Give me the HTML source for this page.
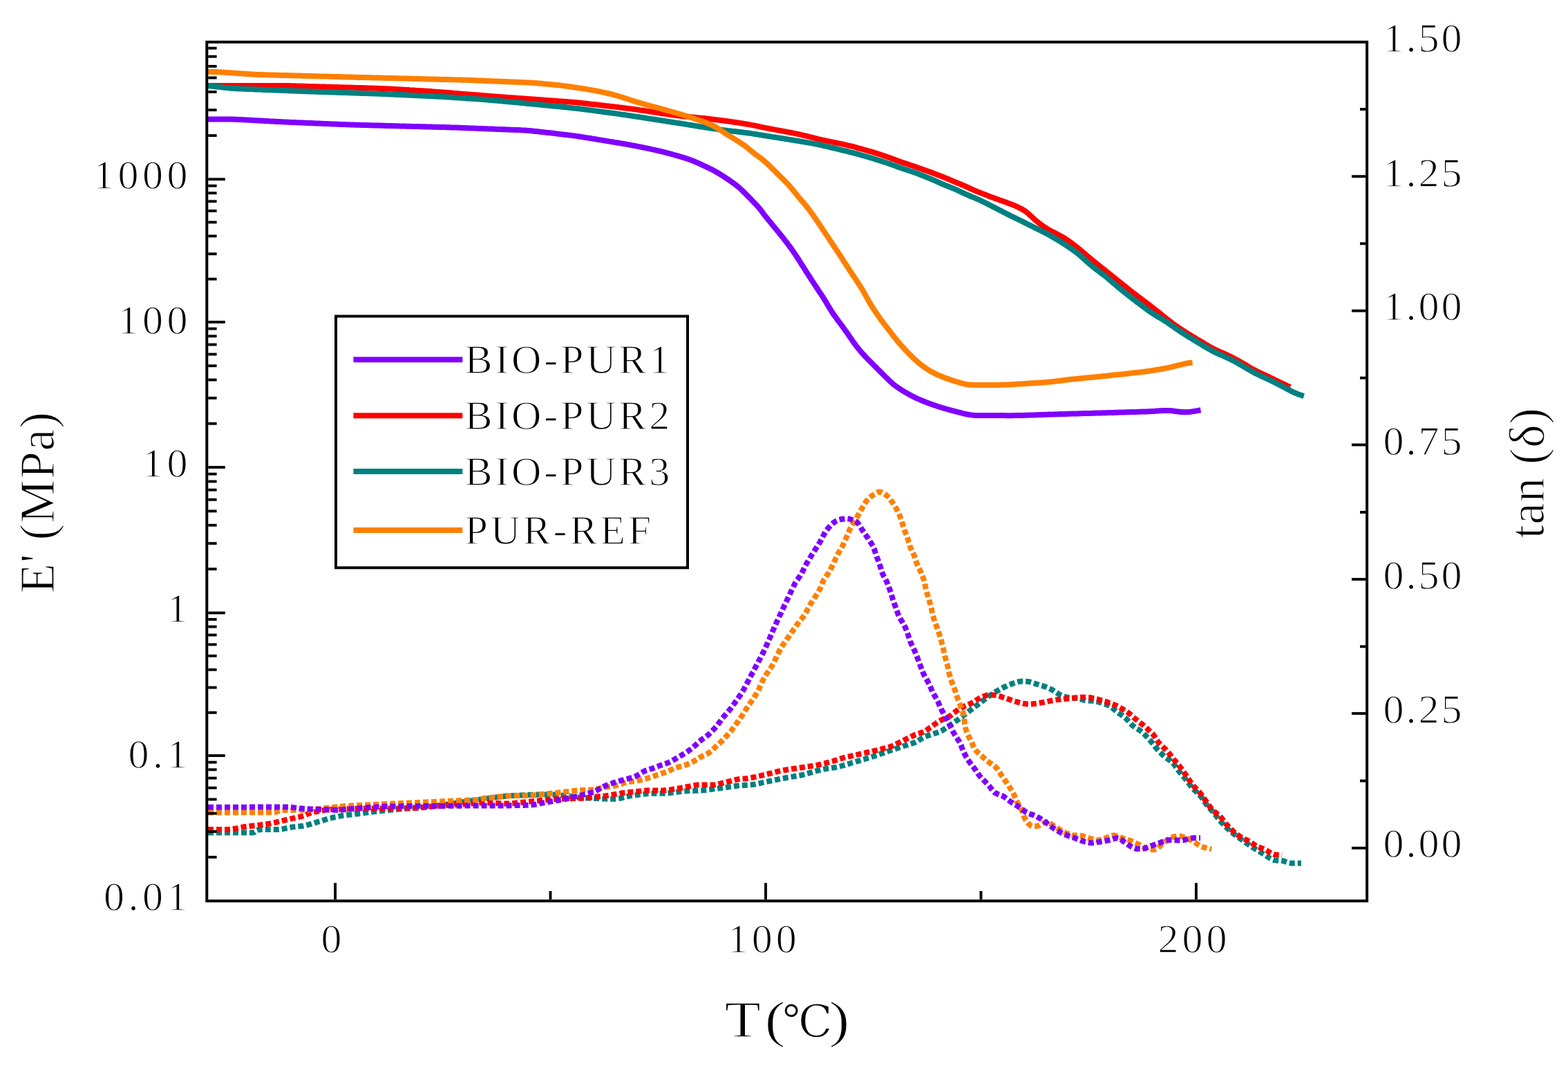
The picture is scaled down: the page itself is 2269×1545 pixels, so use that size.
<!DOCTYPE html><html><head><meta charset="utf-8"><title>DMA</title><style>html,body{margin:0;padding:0;background:#fff;}svg{display:block;}text{font-family:"Liberation Serif","DejaVu Serif",serif;fill:#000;stroke:#fff;stroke-width:1.3;}</style></head><body>
<svg width="2269" height="1545" viewBox="0 0 2269 1545">
<rect x="0" y="0" width="2269" height="1545" fill="#fff"/>
<path d="M301.0,1204.6 L303.4,1204.6 L305.1,1204.6 L307.0,1204.6 L309.0,1204.6 L311.0,1204.6 L313.0,1204.6 L315.0,1204.6 L317.0,1204.6 L319.0,1204.6 L321.0,1204.6 L323.0,1204.6 L325.0,1204.6 L327.0,1204.6 L329.0,1204.6 L331.0,1204.6 L333.0,1204.6 L335.0,1204.6 L337.0,1204.6 L339.0,1204.6 L341.0,1204.6 L343.0,1204.6 L345.0,1204.6 L347.0,1204.6 L349.0,1204.6 L351.0,1204.6 L353.0,1204.6 L355.0,1204.6 L357.0,1204.6 L359.0,1204.6 L361.0,1204.6 L363.0,1204.6 L365.0,1204.5 L366.8,1204.4 L368.4,1203.9 L369.6,1203.0 L370.7,1202.0 L371.9,1201.1 L373.4,1200.5 L375.1,1200.2 L377.1,1200.2 L379.1,1200.1 L381.1,1200.1 L383.1,1200.1 L385.1,1200.1 L387.1,1200.1 L389.1,1200.0 L391.1,1200.0 L393.1,1200.0 L395.1,1200.0 L397.1,1200.0 L399.1,1200.0 L401.1,1199.9 L403.1,1199.9 L405.1,1199.7 L407.0,1199.5 L409.0,1199.2 L411.0,1198.8 L412.9,1198.4 L414.9,1198.0 L416.8,1197.6 L418.8,1197.2 L420.8,1196.8 L422.7,1196.5 L424.7,1196.2 L426.7,1196.0 L428.7,1195.8 L430.7,1195.6 L432.7,1195.4 L434.6,1195.2 L436.6,1195.0 L438.6,1194.8 L440.6,1194.4 L442.5,1194.0 L444.5,1193.5 L446.4,1193.0 L448.3,1192.4 L450.2,1191.9 L452.1,1191.3 L454.1,1190.8 L456.0,1190.2 L457.9,1189.6 L459.8,1189.0 L461.7,1188.4 L463.6,1187.9 L465.5,1187.3 L467.5,1186.7 L469.4,1186.1 L471.3,1185.5 L473.2,1184.9 L475.1,1184.3 L477.0,1183.8 L479.0,1183.4 L480.9,1182.9 L482.9,1182.5 L484.8,1182.0 L486.8,1181.6 L488.7,1181.2 L490.7,1180.8 L492.7,1180.4 L494.6,1180.0 L496.6,1179.7 L498.6,1179.5 L500.6,1179.2 L502.6,1179.0 L504.5,1178.8 L506.5,1178.6 L508.5,1178.3 L510.5,1178.1 L512.5,1177.9 L514.5,1177.6 L516.5,1177.4 L518.4,1177.2 L520.4,1176.9 L522.4,1176.7 L524.4,1176.4 L526.4,1176.1 L528.4,1175.9 L530.3,1175.6 L532.3,1175.4 L534.3,1175.1 L536.3,1174.8 L538.3,1174.6 L540.3,1174.3 L542.2,1174.0 L544.2,1173.8 L546.2,1173.5 L548.2,1173.3 L550.2,1173.1 L552.2,1172.9 L554.2,1172.7 L556.2,1172.5 L558.1,1172.3 L560.1,1172.1 L562.1,1171.9 L564.1,1171.7 L566.1,1171.5 L568.1,1171.4 L570.1,1171.2 L572.1,1171.0 L574.1,1170.8 L576.1,1170.6 L578.1,1170.4 L580.0,1170.2 L582.0,1170.0 L584.0,1169.9 L586.0,1169.7 L588.0,1169.5 L590.0,1169.4 L592.0,1169.2 L594.0,1169.1 L596.0,1168.9 L598.0,1168.8 L600.0,1168.6 L602.0,1168.5 L604.0,1168.3 L606.0,1168.2 L608.0,1168.0 L609.9,1167.8 L611.9,1167.7 L613.9,1167.5 L615.9,1167.3 L617.9,1167.1 L619.9,1166.9 L621.9,1166.7 L623.9,1166.4 L625.9,1166.2 L627.8,1165.9 L629.8,1165.7 L631.8,1165.4 L633.8,1165.2 L635.8,1164.9 L637.8,1164.7 L639.7,1164.4 L641.7,1164.2 L643.7,1163.9 L645.7,1163.7 L647.7,1163.4 L649.7,1163.2 L651.7,1162.9 L653.6,1162.6 L655.6,1162.4 L657.6,1162.1 L659.6,1161.8 L661.5,1161.5 L663.5,1161.2 L665.5,1160.9 L667.5,1160.6 L669.5,1160.3 L671.4,1160.0 L673.4,1159.7 L675.4,1159.4 L677.4,1159.1 L679.3,1158.8 L681.3,1158.5 L683.3,1158.2 L685.3,1157.9 L687.3,1157.6 L689.2,1157.3 L691.2,1157.0 L693.2,1156.7 L695.2,1156.4 L697.1,1156.1 L699.1,1155.9 L701.1,1155.6 L703.1,1155.3 L705.1,1155.1 L707.1,1154.8 L709.0,1154.6 L711.0,1154.3 L713.0,1154.1 L715.0,1153.8 L717.0,1153.6 L719.0,1153.3 L720.9,1153.1 L722.9,1152.8 L724.9,1152.6 L726.9,1152.3 L728.9,1152.1 L730.9,1151.8 L732.9,1151.6 L734.8,1151.4 L736.8,1151.2 L738.8,1151.1 L740.8,1151.0 L742.8,1150.9 L744.8,1150.8 L746.8,1150.7 L748.8,1150.6 L750.8,1150.5 L752.8,1150.4 L754.8,1150.4 L756.8,1150.3 L758.8,1150.2 L760.8,1150.1 L762.8,1150.0 L764.8,1149.9 L766.8,1149.8 L768.8,1149.7 L770.8,1149.7 L772.8,1149.6 L774.8,1149.6 L776.8,1149.6 L778.8,1149.6 L780.8,1149.6 L782.8,1149.6 L784.8,1149.6 L786.8,1149.6 L788.8,1149.6 L790.8,1149.6 L792.8,1149.6 L794.8,1149.6 L796.8,1149.6 L798.8,1149.6 L800.8,1149.6 L802.8,1149.6 L804.8,1149.7 L806.8,1149.8 L808.8,1150.0 L810.8,1150.2 L812.7,1150.5 L814.7,1150.7 L816.7,1151.0 L818.7,1151.2 L820.7,1151.5 L822.7,1151.7 L824.7,1152.0 L826.6,1152.2 L828.6,1152.5 L830.6,1152.7 L832.6,1152.9 L834.6,1153.2 L836.6,1153.4 L838.5,1153.7 L840.5,1153.9 L842.5,1154.0 L844.5,1154.2 L846.5,1154.3 L848.5,1154.4 L850.5,1154.5 L852.5,1154.6 L854.5,1154.7 L856.5,1154.7 L858.5,1154.8 L860.5,1154.9 L862.5,1155.0 L864.5,1155.1 L866.5,1155.2 L868.5,1155.3 L870.5,1155.4 L872.5,1155.5 L874.5,1155.6 L876.5,1155.6 L878.5,1155.7 L880.5,1155.7 L882.5,1155.7 L884.5,1155.7 L886.5,1155.7 L888.5,1155.7 L890.5,1155.7 L892.5,1155.6 L894.4,1155.3 L896.4,1155.0 L898.3,1154.6 L900.3,1154.1 L902.2,1153.6 L904.2,1153.1 L906.1,1152.7 L908.1,1152.2 L910.0,1151.7 L912.0,1151.4 L913.9,1151.0 L915.9,1150.7 L917.9,1150.5 L919.9,1150.2 L921.8,1149.9 L923.8,1149.7 L925.8,1149.4 L927.8,1149.1 L929.8,1148.9 L931.8,1148.6 L933.7,1148.4 L935.7,1148.2 L937.7,1148.0 L939.7,1147.9 L941.7,1147.8 L943.7,1147.8 L945.7,1147.8 L947.7,1147.8 L949.7,1147.8 L951.7,1147.8 L953.7,1147.8 L955.7,1147.8 L957.7,1147.8 L959.7,1147.8 L961.7,1147.8 L963.7,1147.7 L965.7,1147.5 L967.7,1147.3 L969.7,1147.1 L971.6,1146.8 L973.6,1146.6 L975.6,1146.3 L977.6,1146.1 L979.6,1145.8 L981.6,1145.5 L983.5,1145.3 L985.5,1145.0 L987.5,1144.8 L989.5,1144.5 L991.5,1144.4 L993.5,1144.2 L995.5,1144.2 L997.5,1144.1 L999.5,1144.0 L1001.5,1143.9 L1003.5,1143.9 L1005.5,1143.8 L1007.5,1143.7 L1009.5,1143.7 L1011.5,1143.6 L1013.5,1143.5 L1015.5,1143.4 L1017.5,1143.3 L1019.4,1143.1 L1021.4,1142.8 L1023.4,1142.6 L1025.4,1142.3 L1027.4,1142.1 L1029.4,1141.8 L1031.3,1141.5 L1033.3,1141.3 L1035.3,1141.0 L1037.3,1140.8 L1039.3,1140.5 L1041.3,1140.2 L1043.2,1140.0 L1045.2,1139.7 L1047.2,1139.4 L1049.2,1139.2 L1051.2,1138.9 L1053.2,1138.7 L1055.1,1138.4 L1057.1,1138.1 L1059.1,1137.9 L1061.1,1137.6 L1063.1,1137.3 L1065.0,1137.1 L1067.0,1136.8 L1069.0,1136.6 L1071.0,1136.4 L1073.0,1136.2 L1075.0,1136.1 L1077.0,1136.0 L1079.0,1135.8 L1081.0,1135.7 L1083.0,1135.6 L1085.0,1135.4 L1087.0,1135.3 L1088.9,1135.1 L1090.9,1134.8 L1092.9,1134.5 L1094.8,1134.1 L1096.8,1133.6 L1098.8,1133.2 L1100.7,1132.8 L1102.7,1132.3 L1104.6,1131.9 L1106.6,1131.5 L1108.5,1131.0 L1110.5,1130.6 L1112.4,1130.2 L1114.4,1129.8 L1116.3,1129.4 L1118.3,1129.0 L1120.3,1128.6 L1122.2,1128.2 L1124.2,1127.8 L1126.1,1127.4 L1128.1,1127.0 L1130.1,1126.6 L1132.0,1126.2 L1134.0,1125.9 L1136.0,1125.5 L1137.9,1125.1 L1139.9,1124.7 L1141.9,1124.4 L1143.8,1124.0 L1145.8,1123.7 L1147.8,1123.4 L1149.7,1123.0 L1151.7,1122.7 L1153.7,1122.4 L1155.7,1122.0 L1157.6,1121.7 L1159.6,1121.3 L1161.5,1120.9 L1163.5,1120.4 L1165.4,1119.9 L1167.3,1119.4 L1169.2,1118.8 L1171.2,1118.2 L1173.1,1117.7 L1175.0,1117.1 L1176.9,1116.5 L1178.8,1115.9 L1180.8,1115.4 L1182.7,1114.8 L1184.6,1114.3 L1186.5,1113.8 L1188.5,1113.3 L1190.4,1113.0 L1192.4,1112.6 L1194.4,1112.3 L1196.4,1112.0 L1198.3,1111.7 L1200.3,1111.4 L1202.3,1111.1 L1204.3,1110.8 L1206.2,1110.5 L1208.2,1110.2 L1210.2,1109.9 L1212.2,1109.5 L1214.1,1109.0 L1216.0,1108.5 L1217.9,1108.0 L1219.9,1107.4 L1221.8,1106.9 L1223.7,1106.3 L1225.6,1105.7 L1227.5,1105.2 L1229.5,1104.6 L1231.4,1104.0 L1233.3,1103.4 L1235.2,1102.9 L1237.1,1102.3 L1239.0,1101.7 L1241.0,1101.2 L1242.9,1100.6 L1244.8,1100.0 L1246.7,1099.4 L1248.6,1098.8 L1250.5,1098.3 L1252.4,1097.7 L1254.4,1097.1 L1256.3,1096.5 L1258.2,1096.0 L1260.1,1095.4 L1262.0,1094.8 L1263.9,1094.2 L1265.8,1093.5 L1267.7,1092.9 L1269.6,1092.3 L1271.5,1091.6 L1273.4,1090.9 L1275.3,1090.3 L1277.2,1089.6 L1279.0,1089.0 L1280.9,1088.3 L1282.8,1087.7 L1284.7,1087.0 L1286.6,1086.3 L1288.5,1085.7 L1290.4,1085.0 L1292.3,1084.4 L1294.2,1083.8 L1296.1,1083.1 L1298.0,1082.5 L1299.9,1081.9 L1301.8,1081.2 L1303.7,1080.6 L1305.6,1080.0 L1307.5,1079.3 L1309.3,1078.7 L1311.3,1078.1 L1313.2,1077.5 L1315.1,1076.9 L1317.0,1076.3 L1318.9,1075.7 L1320.8,1075.1 L1322.7,1074.5 L1324.5,1073.8 L1326.3,1072.9 L1328.0,1072.0 L1329.7,1070.9 L1331.4,1069.8 L1333.1,1068.7 L1334.8,1067.6 L1336.5,1066.7 L1338.3,1065.8 L1340.1,1065.1 L1342.0,1064.4 L1343.9,1063.7 L1345.8,1063.1 L1347.7,1062.5 L1349.6,1061.9 L1351.5,1061.3 L1353.4,1060.7 L1355.3,1060.1 L1357.2,1059.5 L1359.1,1058.9 L1360.9,1058.1 L1362.7,1057.2 L1364.4,1056.1 L1366.0,1055.0 L1367.7,1053.9 L1369.3,1052.8 L1371.0,1051.6 L1372.6,1050.5 L1374.3,1049.4 L1375.9,1048.2 L1377.6,1047.1 L1379.2,1046.0 L1380.9,1044.9 L1382.5,1043.8 L1384.2,1042.6 L1385.8,1041.5 L1387.4,1040.3 L1389.0,1039.1 L1390.6,1037.8 L1392.2,1036.6 L1393.8,1035.4 L1395.4,1034.2 L1396.9,1033.0 L1398.5,1031.8 L1400.1,1030.5 L1401.7,1029.3 L1403.3,1028.1 L1404.9,1026.9 L1406.5,1025.7 L1408.1,1024.5 L1409.7,1023.3 L1411.3,1022.1 L1412.9,1020.9 L1414.5,1019.7 L1416.1,1018.5 L1417.7,1017.3 L1419.3,1016.1 L1420.8,1014.8 L1422.4,1013.6 L1424.0,1012.4 L1425.6,1011.2 L1427.2,1010.0 L1428.8,1008.8 L1430.4,1007.6 L1432.1,1006.5 L1433.7,1005.4 L1435.4,1004.3 L1437.1,1003.2 L1438.7,1002.1 L1440.4,1001.0 L1442.1,1000.0 L1443.9,999.0 L1445.6,998.0 L1447.4,997.0 L1449.1,996.1 L1450.9,995.1 L1452.7,994.2 L1454.5,993.4 L1456.3,992.6 L1458.1,991.7 L1460.0,990.9 L1461.8,990.2 L1463.7,989.4 L1465.5,988.7 L1467.4,988.1 L1469.3,987.5 L1471.2,986.9 L1473.1,986.3 L1475.1,986.0 L1477.0,985.7 L1479.0,985.6 L1481.0,985.6 L1483.0,985.6 L1485.0,985.7 L1487.0,985.9 L1488.9,986.2 L1490.8,986.7 L1492.7,987.3 L1494.6,987.9 L1496.5,988.5 L1498.5,989.1 L1500.4,989.7 L1502.3,990.3 L1504.2,990.9 L1506.1,991.5 L1508.0,992.0 L1509.9,992.6 L1511.8,993.3 L1513.7,994.0 L1515.5,994.8 L1517.3,995.6 L1519.2,996.4 L1521.0,997.2 L1522.8,998.1 L1524.5,999.1 L1526.2,1000.2 L1527.9,1001.2 L1529.5,1002.3 L1531.2,1003.4 L1532.9,1004.5 L1534.6,1005.4 L1536.5,1006.2 L1538.3,1006.9 L1540.2,1007.5 L1542.1,1008.1 L1544.0,1008.6 L1546.0,1009.1 L1547.9,1009.5 L1549.9,1009.7 L1551.9,1009.8 L1553.9,1009.8 L1555.9,1009.9 L1557.8,1010.0 L1559.8,1010.3 L1561.7,1010.7 L1563.6,1011.3 L1565.5,1011.9 L1567.4,1012.5 L1569.4,1013.0 L1571.3,1013.4 L1573.3,1013.6 L1575.2,1013.7 L1577.2,1013.7 L1579.2,1013.7 L1581.2,1013.8 L1583.2,1014.0 L1585.1,1014.3 L1587.1,1014.8 L1589.0,1015.3 L1590.9,1015.9 L1592.8,1016.5 L1594.7,1017.1 L1596.6,1017.7 L1598.5,1018.3 L1600.4,1019.0 L1602.3,1019.7 L1604.1,1020.5 L1605.9,1021.4 L1607.5,1022.4 L1609.1,1023.6 L1610.6,1024.9 L1612.2,1026.2 L1613.7,1027.5 L1615.2,1028.8 L1616.7,1030.1 L1618.3,1031.2 L1620.0,1032.4 L1621.6,1033.5 L1623.3,1034.6 L1624.9,1035.8 L1626.5,1036.9 L1628.1,1038.2 L1629.5,1039.5 L1630.9,1041.0 L1632.3,1042.4 L1633.6,1043.9 L1635.0,1045.4 L1636.3,1046.9 L1637.7,1048.3 L1639.1,1049.7 L1640.7,1050.9 L1642.3,1052.1 L1643.9,1053.2 L1645.7,1054.2 L1647.4,1055.3 L1649.1,1056.3 L1650.7,1057.4 L1652.3,1058.6 L1653.8,1059.9 L1655.2,1061.3 L1656.6,1062.7 L1658.0,1064.2 L1659.3,1065.6 L1660.7,1067.1 L1662.0,1068.6 L1663.4,1070.1 L1664.7,1071.6 L1666.0,1073.1 L1667.2,1074.7 L1668.5,1076.2 L1669.7,1077.8 L1670.9,1079.4 L1672.2,1080.9 L1673.5,1082.5 L1674.7,1084.0 L1676.1,1085.5 L1677.5,1087.0 L1678.8,1088.4 L1680.3,1089.8 L1681.7,1091.2 L1683.1,1092.6 L1684.6,1094.0 L1686.1,1095.2 L1687.7,1096.4 L1689.3,1097.5 L1691.0,1098.7 L1692.7,1099.8 L1694.3,1100.9 L1695.8,1102.2 L1697.2,1103.6 L1698.5,1105.1 L1699.6,1106.7 L1700.8,1108.3 L1701.9,1110.0 L1703.1,1111.6 L1704.2,1113.2 L1705.4,1114.8 L1706.7,1116.4 L1707.9,1117.9 L1709.2,1119.5 L1710.5,1121.0 L1711.8,1122.5 L1713.1,1124.1 L1714.3,1125.6 L1715.6,1127.2 L1716.8,1128.7 L1718.0,1130.3 L1719.3,1131.9 L1720.5,1133.5 L1721.7,1135.1 L1722.9,1136.7 L1724.1,1138.2 L1725.4,1139.8 L1726.8,1141.2 L1728.2,1142.6 L1729.6,1144.0 L1731.1,1145.4 L1732.5,1146.8 L1733.9,1148.2 L1735.4,1149.6 L1736.7,1151.1 L1738.0,1152.6 L1739.2,1154.2 L1740.3,1155.8 L1741.5,1157.5 L1742.6,1159.1 L1743.7,1160.8 L1744.8,1162.4 L1746.0,1164.0 L1747.3,1165.6 L1748.6,1167.1 L1749.9,1168.6 L1751.3,1170.1 L1752.6,1171.5 L1753.9,1173.0 L1755.3,1174.5 L1756.6,1176.0 L1757.9,1177.6 L1759.1,1179.1 L1760.3,1180.7 L1761.5,1182.3 L1762.7,1183.9 L1764.0,1185.5 L1765.2,1187.0 L1766.5,1188.6 L1767.9,1190.0 L1769.2,1191.5 L1770.7,1192.9 L1772.1,1194.3 L1773.5,1195.7 L1774.9,1197.1 L1776.3,1198.5 L1777.8,1199.9 L1779.3,1201.2 L1780.8,1202.5 L1782.3,1203.8 L1783.9,1205.1 L1785.4,1206.3 L1787.0,1207.5 L1788.6,1208.8 L1790.2,1209.9 L1791.8,1211.1 L1793.5,1212.3 L1795.1,1213.4 L1796.7,1214.6 L1798.4,1215.7 L1800.0,1216.9 L1801.6,1218.1 L1803.2,1219.3 L1804.8,1220.4 L1806.5,1221.6 L1808.1,1222.8 L1809.7,1223.9 L1811.4,1225.0 L1813.1,1226.1 L1814.8,1227.1 L1816.5,1228.2 L1818.2,1229.2 L1819.9,1230.2 L1821.6,1231.3 L1823.3,1232.3 L1825.0,1233.4 L1826.7,1234.5 L1828.4,1235.6 L1830.1,1236.6 L1831.7,1237.7 L1833.4,1238.8 L1835.1,1239.9 L1836.8,1240.9 L1838.5,1242.0 L1840.2,1242.9 L1842.0,1243.7 L1843.8,1244.3 L1845.8,1244.6 L1847.7,1244.7 L1849.7,1244.7 L1851.7,1244.8 L1853.7,1244.9 L1855.6,1245.2 L1857.6,1245.7 L1859.5,1246.2 L1861.4,1246.9 L1863.3,1247.5 L1865.2,1248.0 L1867.1,1248.4 L1869.1,1248.7 L1871.0,1248.8 L1873.0,1248.8 L1875.0,1248.8 L1877.0,1248.8 L1878.8,1248.8 L1880.3,1248.8 L1883.0,1248.8" fill="none" stroke="#008080" stroke-width="8" stroke-dasharray="8 4" stroke-linejoin="miter" stroke-linecap="butt"/>
<path d="M301.0,1199.9 L303.4,1199.9 L305.1,1199.9 L307.0,1199.9 L309.0,1199.9 L311.0,1199.9 L313.0,1199.9 L315.0,1199.9 L317.0,1199.9 L319.0,1199.9 L321.0,1199.9 L323.0,1199.9 L325.0,1199.9 L327.0,1199.9 L329.0,1199.9 L331.0,1199.9 L333.0,1199.8 L335.0,1199.7 L336.9,1199.4 L338.9,1199.0 L340.9,1198.7 L342.8,1198.2 L344.8,1197.8 L346.7,1197.4 L348.7,1197.0 L350.7,1196.6 L352.6,1196.3 L354.6,1196.0 L356.6,1195.8 L358.6,1195.5 L360.6,1195.3 L362.5,1195.0 L364.5,1194.8 L366.5,1194.6 L368.5,1194.3 L370.5,1194.1 L372.5,1193.9 L374.5,1193.6 L376.4,1193.4 L378.4,1193.1 L380.4,1192.9 L382.4,1192.7 L384.4,1192.4 L386.4,1192.1 L388.3,1191.8 L390.3,1191.5 L392.3,1191.0 L394.2,1190.6 L396.2,1190.2 L398.1,1189.8 L400.1,1189.3 L402.0,1188.9 L404.0,1188.4 L405.9,1188.0 L407.9,1187.6 L409.8,1187.1 L411.8,1186.6 L413.7,1186.2 L415.7,1185.7 L417.6,1185.3 L419.6,1184.8 L421.5,1184.4 L423.5,1183.9 L425.4,1183.5 L427.4,1183.1 L429.3,1182.6 L431.3,1182.2 L433.2,1181.8 L435.2,1181.3 L437.1,1180.7 L439.0,1180.1 L440.8,1179.4 L442.7,1178.6 L444.5,1177.8 L446.4,1177.1 L448.2,1176.4 L450.1,1175.7 L452.0,1175.2 L454.0,1174.8 L455.9,1174.4 L457.9,1174.1 L459.9,1173.7 L461.8,1173.4 L463.8,1173.0 L465.8,1172.6 L467.7,1172.3 L469.7,1171.9 L471.7,1171.6 L473.7,1171.3 L475.6,1171.0 L477.6,1170.9 L479.6,1170.7 L481.6,1170.7 L483.6,1170.6 L485.6,1170.6 L487.6,1170.5 L489.6,1170.5 L491.6,1170.4 L493.6,1170.4 L495.6,1170.4 L497.6,1170.3 L499.6,1170.3 L501.6,1170.2 L503.6,1170.2 L505.6,1170.1 L507.6,1170.1 L509.6,1170.0 L511.6,1170.0 L513.6,1170.0 L515.6,1169.9 L517.6,1169.9 L519.6,1169.9 L521.6,1169.9 L523.6,1169.8 L525.6,1169.8 L527.6,1169.8 L529.6,1169.7 L531.6,1169.7 L533.6,1169.7 L535.6,1169.7 L537.6,1169.6 L539.6,1169.6 L541.6,1169.6 L543.6,1169.5 L545.6,1169.5 L547.6,1169.5 L549.6,1169.5 L551.6,1169.5 L553.6,1169.4 L555.6,1169.4 L557.6,1169.4 L559.6,1169.4 L561.6,1169.4 L563.6,1169.3 L565.6,1169.3 L567.6,1169.3 L569.6,1169.3 L571.6,1169.3 L573.6,1169.2 L575.6,1169.2 L577.6,1169.2 L579.6,1169.2 L581.6,1169.2 L583.6,1169.2 L585.6,1169.1 L587.6,1169.1 L589.6,1169.1 L591.6,1169.1 L593.6,1169.1 L595.6,1169.0 L597.6,1169.0 L599.6,1168.9 L601.6,1168.8 L603.6,1168.7 L605.6,1168.5 L607.6,1168.4 L609.6,1168.2 L611.6,1168.0 L613.5,1167.8 L615.5,1167.7 L617.5,1167.5 L619.5,1167.3 L621.5,1167.2 L623.5,1167.0 L625.5,1166.8 L627.5,1166.6 L629.5,1166.5 L631.5,1166.3 L633.5,1166.1 L635.5,1166.0 L637.5,1165.8 L639.5,1165.7 L641.4,1165.5 L643.4,1165.4 L645.4,1165.2 L647.4,1165.0 L649.4,1164.9 L651.4,1164.7 L653.4,1164.6 L655.4,1164.4 L657.4,1164.3 L659.4,1164.1 L661.4,1164.0 L663.4,1163.8 L665.4,1163.7 L667.4,1163.5 L669.4,1163.4 L671.4,1163.2 L673.4,1163.0 L675.3,1162.9 L677.3,1162.7 L679.3,1162.6 L681.3,1162.4 L683.3,1162.3 L685.3,1162.1 L687.3,1162.0 L689.3,1161.8 L691.3,1161.7 L693.3,1161.5 L695.3,1161.4 L697.3,1161.2 L699.3,1161.2 L701.3,1161.2 L703.3,1161.2 L705.3,1161.3 L707.3,1161.4 L709.3,1161.5 L711.3,1161.6 L713.3,1161.7 L715.3,1161.8 L717.3,1161.9 L719.2,1162.0 L721.2,1162.1 L723.2,1162.2 L725.2,1162.3 L727.2,1162.4 L729.2,1162.5 L731.2,1162.6 L733.2,1162.6 L735.2,1162.6 L737.2,1162.5 L739.2,1162.4 L741.2,1162.2 L743.2,1162.0 L745.2,1161.8 L747.2,1161.6 L749.2,1161.4 L751.1,1161.2 L753.1,1161.0 L755.1,1160.8 L757.1,1160.6 L759.1,1160.4 L761.1,1160.2 L763.1,1160.0 L765.1,1159.8 L767.1,1159.6 L769.1,1159.4 L771.1,1159.2 L773.0,1159.0 L775.0,1158.8 L777.0,1158.6 L779.0,1158.4 L781.0,1158.2 L783.0,1158.0 L785.0,1157.8 L787.0,1157.6 L789.0,1157.4 L790.9,1157.2 L792.9,1157.0 L794.9,1156.8 L796.9,1156.6 L798.9,1156.4 L800.9,1156.2 L802.9,1156.0 L804.9,1155.9 L806.9,1155.7 L808.9,1155.6 L810.9,1155.6 L812.9,1155.5 L814.9,1155.5 L816.9,1155.4 L818.9,1155.4 L820.9,1155.4 L822.9,1155.3 L824.9,1155.3 L826.9,1155.2 L828.9,1155.2 L830.9,1155.1 L832.9,1155.1 L834.9,1155.0 L836.9,1155.0 L838.9,1154.9 L840.9,1154.8 L842.9,1154.7 L844.8,1154.5 L846.8,1154.3 L848.8,1154.1 L850.8,1153.9 L852.8,1153.7 L854.8,1153.5 L856.8,1153.3 L858.8,1153.1 L860.8,1152.9 L862.8,1152.7 L864.7,1152.5 L866.7,1152.3 L868.7,1152.1 L870.7,1151.9 L872.7,1151.7 L874.7,1151.4 L876.7,1151.2 L878.6,1150.9 L880.6,1150.6 L882.6,1150.2 L884.6,1149.9 L886.5,1149.6 L888.5,1149.3 L890.5,1148.9 L892.5,1148.6 L894.4,1148.3 L896.4,1148.0 L898.4,1147.6 L900.4,1147.3 L902.3,1147.0 L904.3,1146.8 L906.3,1146.6 L908.3,1146.3 L910.3,1146.1 L912.3,1146.0 L914.3,1145.8 L916.2,1145.6 L918.2,1145.4 L920.2,1145.2 L922.2,1145.0 L924.2,1144.8 L926.2,1144.6 L928.2,1144.4 L930.2,1144.2 L932.2,1144.0 L934.2,1143.8 L936.2,1143.6 L938.1,1143.5 L940.1,1143.4 L942.1,1143.4 L944.1,1143.4 L946.1,1143.4 L948.1,1143.4 L950.1,1143.4 L952.1,1143.4 L954.1,1143.4 L956.1,1143.4 L958.1,1143.4 L960.1,1143.4 L962.1,1143.3 L964.1,1143.2 L966.1,1143.0 L968.1,1142.8 L970.1,1142.5 L972.0,1142.1 L974.0,1141.8 L976.0,1141.5 L978.0,1141.2 L979.9,1140.8 L981.9,1140.5 L983.9,1140.2 L985.8,1139.8 L987.8,1139.5 L989.8,1139.1 L991.7,1138.7 L993.7,1138.3 L995.7,1138.0 L997.6,1137.6 L999.6,1137.2 L1001.6,1136.8 L1003.5,1136.5 L1005.5,1136.1 L1007.5,1135.8 L1009.5,1135.6 L1011.4,1135.5 L1013.4,1135.5 L1015.4,1135.5 L1017.4,1135.5 L1019.4,1135.5 L1021.4,1135.5 L1023.4,1135.5 L1025.4,1135.5 L1027.4,1135.5 L1029.4,1135.5 L1031.4,1135.5 L1033.4,1135.4 L1035.4,1135.1 L1037.3,1134.8 L1039.3,1134.4 L1041.2,1133.9 L1043.2,1133.4 L1045.1,1132.9 L1047.0,1132.4 L1049.0,1131.9 L1050.9,1131.4 L1052.9,1130.9 L1054.8,1130.5 L1056.7,1130.0 L1058.7,1129.5 L1060.6,1129.0 L1062.6,1128.6 L1064.5,1128.1 L1066.5,1127.6 L1068.4,1127.2 L1070.4,1126.9 L1072.4,1126.7 L1074.4,1126.6 L1076.3,1126.5 L1078.3,1126.4 L1080.3,1126.2 L1082.3,1126.0 L1084.3,1125.7 L1086.2,1125.3 L1088.2,1124.9 L1090.2,1124.5 L1092.1,1124.1 L1094.1,1123.6 L1096.0,1123.2 L1098.0,1122.7 L1099.9,1122.3 L1101.9,1121.8 L1103.8,1121.4 L1105.8,1120.9 L1107.7,1120.5 L1109.6,1120.0 L1111.6,1119.5 L1113.5,1119.0 L1115.5,1118.6 L1117.4,1118.1 L1119.3,1117.6 L1121.3,1117.1 L1123.2,1116.6 L1125.2,1116.2 L1127.1,1115.7 L1129.1,1115.2 L1131.0,1114.8 L1133.0,1114.5 L1135.0,1114.1 L1136.9,1113.8 L1138.9,1113.5 L1140.9,1113.2 L1142.9,1112.9 L1144.8,1112.6 L1146.8,1112.3 L1148.8,1112.0 L1150.8,1111.7 L1152.7,1111.4 L1154.7,1111.1 L1156.7,1110.8 L1158.7,1110.5 L1160.7,1110.2 L1162.6,1109.9 L1164.6,1109.6 L1166.6,1109.3 L1168.6,1109.0 L1170.5,1108.7 L1172.5,1108.4 L1174.5,1108.1 L1176.5,1107.8 L1178.5,1107.5 L1180.4,1107.2 L1182.4,1106.8 L1184.3,1106.4 L1186.3,1106.0 L1188.2,1105.5 L1190.2,1105.0 L1192.1,1104.5 L1194.1,1104.1 L1196.0,1103.6 L1197.9,1103.1 L1199.9,1102.6 L1201.8,1102.1 L1203.7,1101.5 L1205.6,1101.0 L1207.6,1100.4 L1209.5,1099.8 L1211.4,1099.2 L1213.3,1098.6 L1215.2,1098.0 L1217.1,1097.4 L1219.0,1096.8 L1220.9,1096.2 L1222.9,1095.7 L1224.8,1095.2 L1226.7,1094.7 L1228.7,1094.3 L1230.6,1093.8 L1232.6,1093.4 L1234.5,1093.0 L1236.5,1092.5 L1238.4,1092.1 L1240.4,1091.7 L1242.4,1091.3 L1244.3,1090.8 L1246.3,1090.4 L1248.2,1090.0 L1250.2,1089.5 L1252.1,1089.1 L1254.1,1088.7 L1256.0,1088.2 L1258.0,1087.8 L1259.9,1087.4 L1261.9,1087.0 L1263.8,1086.5 L1265.8,1086.0 L1267.7,1085.6 L1269.7,1085.1 L1271.6,1084.6 L1273.5,1084.1 L1275.5,1083.6 L1277.4,1083.1 L1279.4,1082.7 L1281.3,1082.2 L1283.2,1081.7 L1285.2,1081.2 L1287.1,1080.7 L1289.0,1080.0 L1290.8,1079.3 L1292.7,1078.5 L1294.5,1077.7 L1296.3,1076.8 L1298.0,1075.9 L1299.8,1075.0 L1301.6,1074.1 L1303.4,1073.2 L1305.2,1072.3 L1307.0,1071.4 L1308.8,1070.5 L1310.6,1069.6 L1312.4,1068.7 L1314.1,1067.8 L1315.9,1066.9 L1317.7,1066.0 L1319.5,1065.1 L1321.3,1064.3 L1323.1,1063.4 L1324.9,1062.6 L1326.8,1061.9 L1328.7,1061.3 L1330.6,1060.7 L1332.5,1060.1 L1334.4,1059.5 L1336.3,1058.8 L1338.1,1058.0 L1339.8,1057.0 L1341.4,1055.9 L1343.0,1054.7 L1344.6,1053.5 L1346.2,1052.3 L1347.9,1051.2 L1349.5,1050.0 L1351.1,1048.8 L1352.7,1047.7 L1354.4,1046.5 L1356.0,1045.4 L1357.7,1044.3 L1359.4,1043.2 L1361.1,1042.2 L1362.8,1041.3 L1364.7,1040.5 L1366.5,1039.7 L1368.3,1038.9 L1370.2,1038.2 L1372.0,1037.3 L1373.7,1036.4 L1375.4,1035.3 L1376.9,1034.1 L1378.5,1032.8 L1380.0,1031.5 L1381.6,1030.3 L1383.1,1029.1 L1384.8,1027.9 L1386.5,1026.9 L1388.2,1025.8 L1389.9,1024.8 L1391.6,1023.8 L1393.3,1022.8 L1395.1,1021.8 L1396.9,1021.0 L1398.7,1020.2 L1400.6,1019.5 L1402.4,1018.7 L1404.3,1018.0 L1406.1,1017.1 L1407.8,1016.1 L1409.5,1015.1 L1411.2,1014.0 L1412.8,1012.9 L1414.5,1011.8 L1416.2,1010.8 L1418.0,1009.8 L1419.7,1008.9 L1421.6,1008.2 L1423.4,1007.4 L1425.3,1006.7 L1427.2,1006.0 L1429.0,1005.5 L1431.0,1005.2 L1432.9,1005.1 L1434.9,1005.2 L1436.9,1005.4 L1438.9,1005.6 L1440.8,1005.9 L1442.8,1006.2 L1444.7,1006.7 L1446.6,1007.2 L1448.5,1007.8 L1450.4,1008.5 L1452.3,1009.1 L1454.2,1009.7 L1456.1,1010.4 L1458.0,1011.0 L1459.9,1011.6 L1461.8,1012.3 L1463.7,1012.9 L1465.6,1013.5 L1467.5,1014.1 L1469.4,1014.7 L1471.4,1015.3 L1473.3,1015.9 L1475.2,1016.4 L1477.1,1016.9 L1479.1,1017.3 L1481.0,1017.7 L1483.0,1018.0 L1485.0,1018.2 L1487.0,1018.4 L1489.0,1018.5 L1491.0,1018.5 L1492.9,1018.4 L1494.9,1018.3 L1496.9,1018.0 L1498.9,1017.8 L1500.9,1017.5 L1502.9,1017.2 L1504.8,1016.9 L1506.8,1016.5 L1508.8,1016.1 L1510.7,1015.8 L1512.7,1015.4 L1514.6,1015.0 L1516.6,1014.6 L1518.6,1014.2 L1520.5,1013.8 L1522.5,1013.4 L1524.5,1013.0 L1526.4,1012.7 L1528.4,1012.4 L1530.4,1012.1 L1532.4,1011.9 L1534.4,1011.7 L1536.3,1011.5 L1538.3,1011.3 L1540.3,1011.1 L1542.3,1010.9 L1544.3,1010.7 L1546.3,1010.5 L1548.3,1010.3 L1550.3,1010.1 L1552.3,1009.9 L1554.3,1009.7 L1556.2,1009.5 L1558.2,1009.3 L1560.2,1009.1 L1562.2,1009.0 L1564.2,1008.8 L1566.2,1008.7 L1568.2,1008.7 L1570.2,1008.8 L1572.2,1008.9 L1574.2,1009.0 L1576.2,1009.1 L1578.2,1009.3 L1580.1,1009.6 L1582.1,1010.1 L1584.0,1010.5 L1585.9,1011.0 L1587.9,1011.5 L1589.8,1012.0 L1591.7,1012.6 L1593.7,1013.1 L1595.6,1013.7 L1597.5,1014.3 L1599.4,1014.8 L1601.3,1015.4 L1603.2,1016.0 L1605.1,1016.7 L1607.0,1017.4 L1608.8,1018.1 L1610.7,1018.9 L1612.6,1019.6 L1614.4,1020.4 L1616.2,1021.2 L1618.0,1022.1 L1619.7,1023.1 L1621.5,1024.1 L1623.2,1025.1 L1624.9,1026.1 L1626.7,1027.1 L1628.4,1028.1 L1630.1,1029.2 L1631.7,1030.3 L1633.3,1031.5 L1634.8,1032.8 L1636.3,1034.1 L1637.8,1035.4 L1639.3,1036.7 L1640.8,1038.1 L1642.3,1039.4 L1643.8,1040.7 L1645.4,1042.0 L1646.9,1043.3 L1648.5,1044.5 L1650.1,1045.7 L1651.6,1046.9 L1653.2,1048.2 L1654.8,1049.4 L1656.3,1050.7 L1657.8,1052.0 L1659.3,1053.4 L1660.8,1054.7 L1662.2,1056.1 L1663.7,1057.5 L1665.1,1058.8 L1666.6,1060.2 L1668.0,1061.7 L1669.2,1063.2 L1670.4,1064.8 L1671.5,1066.4 L1672.6,1068.1 L1673.6,1069.8 L1674.7,1071.5 L1675.8,1073.1 L1677.0,1074.7 L1678.3,1076.2 L1679.7,1077.6 L1681.2,1079.0 L1682.6,1080.4 L1684.1,1081.7 L1685.6,1083.1 L1687.0,1084.4 L1688.4,1085.9 L1689.8,1087.3 L1691.0,1088.9 L1692.3,1090.4 L1693.5,1092.0 L1694.7,1093.6 L1696.0,1095.2 L1697.2,1096.7 L1698.4,1098.3 L1699.7,1099.9 L1701.0,1101.4 L1702.2,1102.9 L1703.5,1104.5 L1704.8,1106.0 L1706.1,1107.5 L1707.4,1109.1 L1708.6,1110.7 L1709.8,1112.3 L1711.0,1113.9 L1712.1,1115.5 L1713.3,1117.2 L1714.4,1118.8 L1715.5,1120.5 L1716.7,1122.1 L1717.8,1123.8 L1718.9,1125.4 L1720.0,1127.1 L1721.1,1128.8 L1722.2,1130.4 L1723.3,1132.1 L1724.4,1133.7 L1725.6,1135.3 L1726.9,1136.8 L1728.3,1138.3 L1729.7,1139.7 L1731.1,1141.1 L1732.5,1142.5 L1733.9,1144.0 L1735.2,1145.5 L1736.5,1147.0 L1737.7,1148.6 L1738.9,1150.2 L1740.0,1151.9 L1741.2,1153.5 L1742.4,1155.1 L1743.5,1156.7 L1744.7,1158.4 L1745.8,1160.0 L1747.0,1161.6 L1748.1,1163.3 L1749.3,1164.9 L1750.4,1166.5 L1751.6,1168.2 L1752.8,1169.8 L1754.1,1171.3 L1755.5,1172.6 L1757.0,1173.9 L1758.5,1175.2 L1760.1,1176.4 L1761.7,1177.7 L1763.2,1178.9 L1764.7,1180.2 L1766.1,1181.6 L1767.4,1183.1 L1768.6,1184.7 L1769.8,1186.3 L1771.0,1187.9 L1772.2,1189.5 L1773.4,1191.1 L1774.7,1192.6 L1776.1,1194.1 L1777.5,1195.5 L1778.9,1197.0 L1780.3,1198.4 L1781.7,1199.8 L1783.1,1201.2 L1784.6,1202.6 L1786.0,1203.9 L1787.6,1205.2 L1789.1,1206.4 L1790.7,1207.6 L1792.4,1208.8 L1794.0,1209.9 L1795.7,1211.0 L1797.4,1212.0 L1799.2,1212.9 L1801.0,1213.8 L1802.8,1214.6 L1804.6,1215.5 L1806.3,1216.4 L1808.0,1217.5 L1809.7,1218.5 L1811.4,1219.6 L1813.1,1220.7 L1814.7,1221.8 L1816.4,1222.9 L1818.2,1223.9 L1819.9,1224.7 L1821.8,1225.5 L1823.6,1226.2 L1825.5,1226.9 L1827.4,1227.6 L1829.2,1228.4 L1831.0,1229.3 L1832.7,1230.2 L1834.5,1231.3 L1836.2,1232.3 L1837.9,1233.4 L1839.6,1234.4 L1841.3,1235.3 L1843.1,1236.0 L1845.0,1236.4 L1847.0,1236.6 L1848.9,1236.7 L1850.8,1236.8 L1852.5,1236.9 L1853.8,1236.9 L1855.1,1237.0" fill="none" stroke="#ff0000" stroke-width="8" stroke-dasharray="8 4" stroke-linejoin="miter" stroke-linecap="butt"/>
<path d="M301.0,1175.5 L303.4,1175.5 L305.1,1175.5 L307.0,1175.5 L309.0,1175.5 L311.0,1175.5 L313.0,1175.5 L315.0,1175.5 L317.0,1175.5 L319.0,1175.4 L321.0,1175.4 L323.0,1175.4 L325.0,1175.4 L327.0,1175.4 L329.0,1175.4 L331.0,1175.4 L333.0,1175.4 L335.0,1175.4 L337.0,1175.4 L339.0,1175.4 L341.0,1175.4 L343.0,1175.4 L345.0,1175.4 L347.0,1175.4 L349.0,1175.4 L351.0,1175.3 L353.0,1175.3 L355.0,1175.3 L357.0,1175.3 L359.0,1175.3 L361.0,1175.3 L363.0,1175.3 L365.0,1175.3 L367.0,1175.3 L369.0,1175.3 L371.0,1175.3 L373.0,1175.3 L375.0,1175.3 L377.0,1175.3 L379.0,1175.3 L381.0,1175.3 L383.0,1175.3 L385.0,1175.2 L387.0,1175.2 L389.0,1175.2 L391.0,1175.2 L393.0,1175.2 L395.0,1175.2 L397.0,1175.1 L398.9,1174.8 L400.7,1174.3 L402.5,1173.6 L404.3,1172.9 L406.2,1172.4 L408.1,1172.1 L410.1,1172.0 L412.1,1172.0 L414.1,1171.9 L416.1,1171.9 L418.1,1171.9 L420.1,1171.9 L422.1,1171.9 L424.1,1171.9 L426.1,1171.8 L428.1,1171.8 L430.1,1171.8 L432.1,1171.8 L434.1,1171.8 L436.1,1171.8 L438.1,1171.8 L440.1,1171.7 L442.1,1171.7 L444.1,1171.7 L446.1,1171.6 L448.0,1171.4 L450.0,1171.3 L452.0,1171.1 L454.0,1170.9 L456.0,1170.6 L458.0,1170.4 L460.0,1170.2 L462.0,1170.0 L464.0,1169.8 L466.0,1169.6 L467.9,1169.4 L469.9,1169.2 L471.9,1169.0 L473.9,1168.8 L475.9,1168.5 L477.9,1168.3 L479.9,1168.1 L481.9,1167.9 L483.9,1167.7 L485.8,1167.5 L487.8,1167.3 L489.8,1167.1 L491.8,1166.9 L493.8,1166.7 L495.8,1166.5 L497.8,1166.3 L499.8,1166.1 L501.8,1165.9 L503.8,1165.8 L505.8,1165.7 L507.8,1165.6 L509.7,1165.5 L511.7,1165.4 L513.7,1165.3 L515.7,1165.2 L517.7,1165.1 L519.7,1165.0 L521.7,1164.9 L523.7,1164.8 L525.7,1164.7 L527.7,1164.6 L529.7,1164.5 L531.7,1164.4 L533.7,1164.3 L535.7,1164.2 L537.7,1164.1 L539.7,1164.0 L541.7,1163.9 L543.7,1163.8 L545.7,1163.7 L547.7,1163.6 L549.7,1163.5 L551.7,1163.4 L553.7,1163.3 L555.7,1163.2 L557.7,1163.1 L559.7,1163.0 L561.7,1162.9 L563.7,1162.8 L565.7,1162.7 L567.7,1162.6 L569.7,1162.5 L571.7,1162.5 L573.7,1162.4 L575.7,1162.3 L577.7,1162.2 L579.7,1162.1 L581.7,1162.0 L583.7,1161.9 L585.7,1161.8 L587.7,1161.7 L589.7,1161.6 L591.7,1161.5 L593.7,1161.4 L595.6,1161.3 L597.6,1161.2 L599.6,1161.1 L601.6,1161.1 L603.6,1161.0 L605.6,1160.9 L607.6,1160.8 L609.6,1160.7 L611.6,1160.6 L613.6,1160.5 L615.6,1160.4 L617.6,1160.3 L619.6,1160.2 L621.6,1160.1 L623.6,1160.0 L625.6,1159.9 L627.6,1159.9 L629.6,1159.8 L631.6,1159.7 L633.6,1159.6 L635.6,1159.5 L637.6,1159.4 L639.6,1159.3 L641.6,1159.2 L643.6,1159.1 L645.6,1159.0 L647.6,1158.9 L649.6,1158.8 L651.6,1158.8 L653.6,1158.7 L655.6,1158.6 L657.6,1158.5 L659.6,1158.4 L661.6,1158.3 L663.6,1158.2 L665.6,1158.1 L667.6,1158.0 L669.6,1157.9 L671.6,1157.8 L673.6,1157.8 L675.6,1157.7 L677.6,1157.6 L679.6,1157.5 L681.6,1157.4 L683.6,1157.3 L685.6,1157.2 L687.5,1157.1 L689.5,1156.9 L691.5,1156.6 L693.5,1156.2 L695.4,1155.9 L697.4,1155.5 L699.4,1155.1 L701.3,1154.8 L703.3,1154.6 L705.3,1154.4 L707.3,1154.2 L709.3,1153.9 L711.3,1153.7 L713.3,1153.5 L715.3,1153.3 L717.2,1153.1 L719.2,1152.9 L721.2,1152.7 L723.2,1152.5 L725.2,1152.3 L727.2,1152.1 L729.2,1151.9 L731.2,1151.7 L733.2,1151.5 L735.2,1151.4 L737.1,1151.3 L739.1,1151.2 L741.1,1151.2 L743.1,1151.1 L745.1,1151.1 L747.1,1151.0 L749.1,1151.0 L751.1,1150.9 L753.1,1150.9 L755.1,1150.8 L757.1,1150.8 L759.1,1150.8 L761.1,1150.7 L763.1,1150.7 L765.1,1150.6 L767.1,1150.6 L769.1,1150.5 L771.1,1150.4 L773.1,1150.2 L775.1,1150.0 L777.1,1149.8 L779.1,1149.6 L781.1,1149.4 L783.1,1149.2 L785.1,1149.0 L787.1,1148.8 L789.0,1148.6 L791.0,1148.4 L793.0,1148.2 L795.0,1148.0 L797.0,1147.8 L799.0,1147.6 L801.0,1147.4 L803.0,1147.2 L805.0,1147.0 L806.9,1146.8 L808.9,1146.5 L810.9,1146.3 L812.9,1146.1 L814.9,1145.8 L816.9,1145.6 L818.9,1145.4 L820.9,1145.1 L822.8,1144.9 L824.8,1144.7 L826.8,1144.4 L828.8,1144.2 L830.8,1144.0 L832.8,1143.8 L834.8,1143.6 L836.8,1143.4 L838.7,1143.3 L840.7,1143.2 L842.7,1143.1 L844.7,1143.0 L846.7,1143.0 L848.7,1142.9 L850.7,1142.8 L852.7,1142.7 L854.7,1142.6 L856.7,1142.5 L858.7,1142.3 L860.7,1141.9 L862.6,1141.5 L864.6,1141.0 L866.5,1140.6 L868.4,1140.1 L870.4,1139.7 L872.3,1139.3 L874.3,1139.0 L876.3,1138.7 L878.3,1138.5 L880.3,1138.3 L882.3,1138.1 L884.2,1137.8 L886.2,1137.5 L888.2,1137.1 L890.1,1136.7 L892.1,1136.2 L894.0,1135.8 L895.9,1135.3 L897.8,1134.7 L899.7,1134.0 L901.6,1133.3 L903.5,1132.7 L905.4,1132.0 L907.3,1131.5 L909.2,1131.1 L911.2,1130.8 L913.2,1130.6 L915.2,1130.4 L917.2,1130.2 L919.1,1130.0 L921.1,1129.6 L923.1,1129.2 L925.0,1128.8 L927.0,1128.4 L928.9,1128.0 L930.9,1127.5 L932.8,1127.0 L934.7,1126.5 L936.6,1125.9 L938.5,1125.3 L940.4,1124.6 L942.3,1124.0 L944.2,1123.4 L946.1,1122.7 L948.0,1122.1 L949.9,1121.5 L951.8,1120.8 L953.7,1120.2 L955.6,1119.6 L957.5,1118.9 L959.4,1118.3 L961.3,1117.6 L963.2,1116.9 L965.0,1116.2 L966.9,1115.5 L968.7,1114.7 L970.6,1113.9 L972.4,1113.0 L974.2,1112.2 L976.0,1111.4 L977.9,1110.7 L979.8,1110.1 L981.7,1109.6 L983.6,1109.1 L985.6,1108.6 L987.5,1108.1 L989.4,1107.6 L991.3,1107.0 L993.2,1106.3 L995.0,1105.5 L996.9,1104.8 L998.7,1104.0 L1000.5,1103.1 L1002.3,1102.2 L1004.0,1101.2 L1005.7,1100.1 L1007.4,1099.1 L1009.1,1098.0 L1010.8,1097.0 L1012.5,1095.9 L1014.3,1095.0 L1016.0,1094.1 L1017.9,1093.3 L1019.7,1092.5 L1021.5,1091.6 L1023.3,1090.7 L1024.9,1089.7 L1026.5,1088.5 L1028.0,1087.2 L1029.5,1085.9 L1031.0,1084.6 L1032.5,1083.2 L1034.0,1081.9 L1035.4,1080.5 L1036.9,1079.1 L1038.4,1077.8 L1039.8,1076.4 L1041.3,1075.0 L1042.7,1073.7 L1044.2,1072.3 L1045.6,1070.9 L1047.0,1069.4 L1048.4,1068.0 L1049.7,1066.5 L1051.1,1065.0 L1052.4,1063.6 L1053.8,1062.1 L1055.1,1060.6 L1056.4,1059.1 L1057.7,1057.6 L1058.9,1056.0 L1060.1,1054.4 L1061.3,1052.8 L1062.5,1051.2 L1063.7,1049.6 L1064.9,1048.0 L1066.0,1046.3 L1067.2,1044.7 L1068.4,1043.1 L1069.5,1041.4 L1070.6,1039.8 L1071.8,1038.1 L1072.9,1036.5 L1074.0,1034.8 L1075.1,1033.2 L1076.2,1031.5 L1077.3,1029.8 L1078.3,1028.1 L1079.4,1026.4 L1080.5,1024.7 L1081.6,1023.0 L1082.7,1021.4 L1083.8,1019.7 L1084.9,1018.1 L1086.1,1016.4 L1087.2,1014.8 L1088.4,1013.1 L1089.5,1011.5 L1090.6,1009.8 L1091.7,1008.1 L1092.7,1006.4 L1093.8,1004.7 L1094.8,1003.0 L1095.8,1001.3 L1096.8,999.6 L1097.7,997.8 L1098.6,996.0 L1099.4,994.2 L1100.1,992.3 L1100.9,990.5 L1101.7,988.6 L1102.5,986.8 L1103.4,985.0 L1104.3,983.3 L1105.3,981.5 L1106.3,979.8 L1107.4,978.1 L1108.4,976.4 L1109.5,974.7 L1110.6,973.0 L1111.7,971.4 L1112.8,969.7 L1114.0,968.1 L1115.1,966.4 L1116.2,964.8 L1117.3,963.1 L1118.3,961.4 L1119.3,959.6 L1120.1,957.8 L1121.0,956.0 L1121.8,954.2 L1122.6,952.4 L1123.5,950.6 L1124.3,948.8 L1125.2,947.0 L1126.1,945.2 L1127.0,943.4 L1127.9,941.6 L1128.8,939.8 L1129.8,938.1 L1130.8,936.4 L1131.8,934.7 L1132.9,933.0 L1134.1,931.4 L1135.2,929.7 L1136.3,928.1 L1137.5,926.4 L1138.6,924.8 L1139.8,923.1 L1140.9,921.5 L1142.1,919.9 L1143.2,918.2 L1144.3,916.6 L1145.5,914.9 L1146.6,913.3 L1147.8,911.7 L1148.9,910.0 L1150.1,908.4 L1151.2,906.8 L1152.4,905.1 L1153.5,903.5 L1154.7,901.9 L1155.9,900.3 L1157.1,898.7 L1158.4,897.1 L1159.6,895.6 L1160.9,894.0 L1162.1,892.4 L1163.3,890.9 L1164.5,889.2 L1165.5,887.5 L1166.5,885.8 L1167.4,884.0 L1168.3,882.2 L1169.2,880.5 L1170.2,878.7 L1171.1,876.9 L1172.1,875.2 L1173.2,873.5 L1174.2,871.8 L1175.3,870.1 L1176.4,868.4 L1177.5,866.8 L1178.5,865.1 L1179.6,863.4 L1180.7,861.7 L1181.7,860.0 L1182.8,858.3 L1183.9,856.6 L1184.9,854.9 L1185.9,853.2 L1186.8,851.4 L1187.7,849.6 L1188.4,847.8 L1189.1,845.9 L1189.8,844.0 L1190.6,842.2 L1191.4,840.4 L1192.3,838.6 L1193.4,836.9 L1194.5,835.3 L1195.6,833.6 L1196.8,832.0 L1197.9,830.3 L1199.0,828.7 L1200.0,826.9 L1201.0,825.2 L1201.9,823.4 L1202.8,821.6 L1203.7,819.9 L1204.6,818.1 L1205.4,816.3 L1206.3,814.5 L1207.1,812.6 L1208.0,810.8 L1208.8,809.0 L1209.6,807.2 L1210.5,805.4 L1211.3,803.6 L1212.3,801.8 L1213.3,800.1 L1214.3,798.3 L1215.3,796.6 L1216.3,794.9 L1217.3,793.2 L1218.3,791.4 L1219.2,789.7 L1220.1,787.9 L1221.0,786.1 L1221.8,784.3 L1222.6,782.4 L1223.4,780.6 L1224.2,778.8 L1225.0,776.9 L1225.8,775.1 L1226.6,773.2 L1227.3,771.4 L1228.1,769.5 L1228.9,767.7 L1229.7,765.9 L1230.6,764.1 L1231.6,762.4 L1232.6,760.7 L1233.6,758.9 L1234.7,757.2 L1235.7,755.5 L1236.7,753.8 L1237.7,752.1 L1238.8,750.4 L1239.8,748.6 L1240.8,746.9 L1241.8,745.2 L1242.8,743.5 L1243.8,741.7 L1244.8,740.0 L1245.8,738.2 L1246.7,736.5 L1247.7,734.7 L1248.6,733.0 L1249.6,731.2 L1250.5,729.5 L1251.6,727.8 L1252.7,726.1 L1253.9,724.6 L1255.3,723.1 L1256.7,721.7 L1258.1,720.3 L1259.6,719.0 L1261.1,717.7 L1262.7,716.6 L1264.4,715.5 L1266.1,714.4 L1267.8,713.4 L1269.5,712.5 L1271.2,711.8 L1273.0,711.6 L1274.7,711.9 L1276.4,712.7 L1278.1,713.6 L1279.8,714.6 L1281.5,715.7 L1283.1,716.8 L1284.6,718.1 L1285.9,719.5 L1287.2,721.1 L1288.4,722.7 L1289.5,724.3 L1290.7,725.9 L1291.8,727.6 L1292.9,729.2 L1294.0,730.9 L1295.1,732.6 L1296.1,734.3 L1297.1,736.0 L1298.1,737.8 L1299.1,739.5 L1300.0,741.3 L1300.8,743.1 L1301.6,744.9 L1302.3,746.8 L1303.0,748.7 L1303.6,750.6 L1304.3,752.5 L1304.9,754.4 L1305.5,756.3 L1306.1,758.2 L1306.7,760.1 L1307.3,762.0 L1307.9,763.9 L1308.5,765.8 L1309.2,767.7 L1309.9,769.6 L1310.6,771.4 L1311.3,773.3 L1312.1,775.1 L1312.8,777.0 L1313.4,778.9 L1314.1,780.8 L1314.6,782.7 L1315.1,784.6 L1315.7,786.6 L1316.2,788.5 L1316.8,790.4 L1317.5,792.2 L1318.3,794.1 L1319.2,795.9 L1320.0,797.7 L1320.9,799.5 L1321.8,801.3 L1322.6,803.1 L1323.3,805.0 L1324.0,806.8 L1324.6,808.7 L1325.2,810.7 L1325.8,812.6 L1326.4,814.4 L1327.1,816.3 L1327.9,818.1 L1328.8,819.9 L1329.7,821.7 L1330.6,823.5 L1331.4,825.3 L1332.3,827.1 L1333.1,828.9 L1333.9,830.8 L1334.6,832.6 L1335.4,834.5 L1336.1,836.4 L1336.8,838.2 L1337.4,840.1 L1337.9,842.1 L1338.3,844.0 L1338.6,846.0 L1339.0,847.9 L1339.4,849.9 L1339.8,851.9 L1340.3,853.8 L1340.8,855.7 L1341.3,857.7 L1341.9,859.6 L1342.5,861.5 L1343.1,863.4 L1343.6,865.3 L1344.2,867.2 L1344.8,869.2 L1345.3,871.1 L1345.9,873.0 L1346.5,874.9 L1347.0,876.8 L1347.4,878.8 L1347.9,880.7 L1348.3,882.7 L1348.7,884.7 L1349.1,886.6 L1349.5,888.6 L1350.0,890.5 L1350.6,892.4 L1351.1,894.3 L1351.7,896.2 L1352.3,898.1 L1352.9,900.0 L1353.6,901.9 L1354.3,903.8 L1355.0,905.7 L1355.8,907.5 L1356.5,909.4 L1357.2,911.3 L1357.9,913.1 L1358.5,915.0 L1359.1,916.9 L1359.7,918.8 L1360.3,920.8 L1360.9,922.7 L1361.4,924.6 L1361.9,926.5 L1362.5,928.5 L1363.0,930.4 L1363.5,932.3 L1364.0,934.3 L1364.5,936.2 L1365.0,938.1 L1365.4,940.1 L1365.8,942.1 L1366.2,944.0 L1366.6,946.0 L1367.0,947.9 L1367.5,949.9 L1368.0,951.8 L1368.6,953.7 L1369.1,955.6 L1369.7,957.6 L1370.2,959.5 L1370.8,961.4 L1371.2,963.3 L1371.7,965.3 L1372.1,967.3 L1372.5,969.2 L1372.9,971.2 L1373.3,973.1 L1373.8,975.1 L1374.3,977.0 L1374.9,978.9 L1375.5,980.8 L1376.1,982.7 L1376.7,984.6 L1377.3,986.5 L1378.0,988.4 L1378.8,990.3 L1379.5,992.1 L1380.2,994.0 L1380.9,995.8 L1381.6,997.7 L1382.3,999.6 L1382.9,1001.5 L1383.5,1003.4 L1384.1,1005.3 L1384.7,1007.2 L1385.3,1009.1 L1386.0,1011.0 L1386.7,1012.9 L1387.4,1014.8 L1388.1,1016.6 L1388.9,1018.5 L1389.6,1020.3 L1390.3,1022.2 L1391.0,1024.1 L1391.7,1026.0 L1392.4,1027.8 L1393.1,1029.7 L1393.7,1031.6 L1394.3,1033.5 L1394.8,1035.4 L1395.1,1037.4 L1395.3,1039.4 L1395.5,1041.3 L1395.7,1043.3 L1395.9,1045.3 L1396.1,1047.3 L1396.4,1049.3 L1396.8,1051.2 L1397.2,1053.2 L1397.7,1055.1 L1398.3,1057.0 L1398.9,1058.9 L1399.5,1060.8 L1400.3,1062.6 L1401.2,1064.4 L1402.1,1066.2 L1403.1,1068.0 L1404.0,1069.7 L1404.9,1071.5 L1405.8,1073.3 L1406.6,1075.1 L1407.4,1077.0 L1408.2,1078.8 L1409.0,1080.6 L1409.9,1082.4 L1410.9,1084.1 L1412.1,1085.6 L1413.4,1087.0 L1414.9,1088.4 L1416.3,1089.8 L1417.8,1091.1 L1419.3,1092.5 L1420.8,1093.8 L1422.2,1095.2 L1423.7,1096.5 L1425.2,1097.8 L1426.7,1099.2 L1428.3,1100.5 L1429.8,1101.7 L1431.4,1102.9 L1433.0,1104.1 L1434.7,1105.2 L1436.3,1106.3 L1438.0,1107.5 L1439.5,1108.7 L1441.0,1109.9 L1442.4,1111.4 L1443.6,1112.9 L1444.7,1114.6 L1445.8,1116.2 L1446.9,1117.9 L1447.9,1119.6 L1449.0,1121.3 L1450.1,1123.0 L1451.2,1124.6 L1452.4,1126.3 L1453.5,1127.9 L1454.7,1129.5 L1455.8,1131.2 L1457.0,1132.8 L1458.1,1134.5 L1459.2,1136.1 L1460.3,1137.8 L1461.4,1139.5 L1462.5,1141.1 L1463.6,1142.8 L1464.7,1144.5 L1465.7,1146.2 L1466.6,1148.0 L1467.4,1149.8 L1468.2,1151.6 L1468.9,1153.5 L1469.7,1155.3 L1470.5,1157.2 L1471.3,1159.0 L1472.2,1160.8 L1473.2,1162.5 L1474.2,1164.2 L1475.3,1165.9 L1476.3,1167.6 L1477.3,1169.3 L1478.2,1171.1 L1479.0,1172.9 L1479.7,1174.8 L1480.3,1176.7 L1480.9,1178.6 L1481.5,1180.5 L1482.2,1182.3 L1483.1,1184.1 L1484.1,1185.8 L1485.2,1187.4 L1486.4,1189.1 L1487.6,1190.6 L1488.9,1192.1 L1490.2,1193.4 L1491.7,1194.4 L1493.4,1195.0 L1495.3,1195.2 L1497.3,1195.3 L1499.2,1195.2 L1501.2,1194.9 L1503.0,1194.4 L1504.8,1193.7 L1506.6,1192.7 L1508.3,1191.7 L1510.0,1190.7 L1511.7,1189.8 L1513.4,1189.2 L1515.0,1189.0 L1516.7,1189.4 L1518.4,1190.3 L1520.0,1191.3 L1521.7,1192.4 L1523.3,1193.6 L1525.0,1194.7 L1526.6,1195.8 L1528.3,1196.9 L1530.0,1198.0 L1531.7,1199.0 L1533.4,1200.1 L1535.1,1201.1 L1536.8,1202.1 L1538.5,1203.1 L1540.3,1204.0 L1542.1,1204.8 L1544.0,1205.6 L1545.9,1206.3 L1547.7,1207.0 L1549.6,1207.6 L1551.5,1208.1 L1553.5,1208.4 L1555.4,1208.5 L1557.4,1208.6 L1559.4,1208.6 L1561.4,1208.7 L1563.4,1208.9 L1565.3,1209.2 L1567.2,1209.7 L1569.2,1210.3 L1571.1,1210.9 L1573.0,1211.5 L1574.9,1212.1 L1576.8,1212.7 L1578.7,1213.3 L1580.6,1213.9 L1582.5,1214.5 L1584.4,1215.0 L1586.3,1215.3 L1588.2,1215.4 L1590.2,1215.1 L1592.1,1214.7 L1594.0,1214.2 L1595.9,1213.6 L1597.8,1213.0 L1599.7,1212.3 L1601.6,1211.7 L1603.4,1211.0 L1605.3,1210.3 L1607.2,1209.6 L1609.1,1209.0 L1610.9,1208.6 L1612.8,1208.5 L1614.6,1208.8 L1616.5,1209.4 L1618.3,1210.1 L1620.2,1210.8 L1622.0,1211.6 L1623.9,1212.3 L1625.8,1212.9 L1627.7,1213.5 L1629.6,1214.1 L1631.5,1214.7 L1633.4,1215.3 L1635.3,1216.0 L1637.2,1216.7 L1639.0,1217.5 L1640.8,1218.3 L1642.7,1219.2 L1644.5,1220.0 L1646.3,1220.9 L1648.1,1221.7 L1649.9,1222.6 L1651.6,1223.6 L1653.4,1224.5 L1655.1,1225.5 L1656.9,1226.4 L1658.7,1227.2 L1660.5,1227.9 L1662.4,1228.4 L1664.4,1228.7 L1666.4,1228.9 L1668.3,1229.0 L1670.3,1229.0 L1672.1,1228.7 L1673.8,1228.0 L1675.3,1226.9 L1676.8,1225.6 L1678.2,1224.2 L1679.6,1222.8 L1681.1,1221.4 L1682.5,1220.1 L1684.1,1218.8 L1685.7,1217.6 L1687.3,1216.4 L1688.9,1215.3 L1690.5,1214.1 L1692.2,1213.1 L1694.0,1212.2 L1695.8,1211.5 L1697.7,1210.9 L1699.6,1210.3 L1701.5,1209.8 L1703.5,1209.4 L1705.4,1209.3 L1707.3,1209.5 L1709.2,1209.9 L1711.1,1210.4 L1713.0,1211.0 L1714.9,1211.6 L1716.8,1212.3 L1718.6,1213.0 L1720.5,1213.8 L1722.2,1214.7 L1724.0,1215.6 L1725.8,1216.6 L1727.5,1217.6 L1729.1,1218.7 L1730.8,1219.9 L1732.4,1221.0 L1734.0,1222.2 L1735.7,1223.3 L1737.4,1224.2 L1739.2,1224.9 L1741.1,1225.5 L1743.0,1226.1 L1745.0,1226.5 L1746.9,1227.0 L1748.7,1227.5 L1750.4,1227.9 L1751.6,1228.2 L1753.0,1228.5" fill="none" stroke="#ff8000" stroke-width="8" stroke-dasharray="8 4" stroke-linejoin="miter" stroke-linecap="butt"/>
<path d="M301.0,1167.8 L303.4,1167.8 L305.1,1167.8 L307.0,1167.8 L309.0,1167.8 L311.0,1167.8 L313.0,1167.8 L315.0,1167.8 L317.0,1167.8 L319.0,1167.8 L321.0,1167.7 L323.0,1167.7 L325.0,1167.7 L327.0,1167.7 L329.0,1167.7 L331.0,1167.7 L333.0,1167.7 L335.0,1167.7 L337.0,1167.7 L339.0,1167.7 L341.0,1167.7 L343.0,1167.7 L345.0,1167.7 L347.0,1167.7 L349.0,1167.7 L351.0,1167.7 L353.0,1167.7 L355.0,1167.7 L357.0,1167.7 L359.0,1167.7 L361.0,1167.6 L363.0,1167.6 L365.0,1167.6 L367.0,1167.6 L369.0,1167.6 L371.0,1167.6 L373.0,1167.6 L375.0,1167.6 L377.0,1167.6 L379.0,1167.6 L381.0,1167.6 L383.0,1167.6 L385.0,1167.6 L387.0,1167.6 L389.0,1167.6 L391.0,1167.6 L393.0,1167.6 L395.0,1167.6 L397.0,1167.6 L399.0,1167.6 L401.0,1167.5 L403.0,1167.5 L405.0,1167.5 L407.0,1167.5 L409.0,1167.5 L411.0,1167.5 L413.0,1167.5 L415.0,1167.5 L417.0,1167.5 L419.0,1167.6 L421.0,1167.7 L423.0,1167.9 L425.0,1168.1 L426.9,1168.4 L428.9,1168.6 L430.9,1168.9 L432.9,1169.1 L434.9,1169.4 L436.9,1169.6 L438.9,1169.8 L440.8,1170.0 L442.8,1170.1 L444.8,1170.2 L446.8,1170.3 L448.8,1170.4 L450.8,1170.4 L452.8,1170.5 L454.8,1170.6 L456.8,1170.7 L458.8,1170.8 L460.8,1170.8 L462.8,1170.9 L464.8,1171.0 L466.8,1171.1 L468.8,1171.2 L470.8,1171.2 L472.8,1171.3 L474.8,1171.4 L476.8,1171.5 L478.8,1171.6 L480.8,1171.6 L482.8,1171.7 L484.8,1171.8 L486.8,1171.8 L488.8,1171.9 L490.8,1171.8 L492.8,1171.7 L494.8,1171.5 L496.8,1171.3 L498.8,1171.1 L500.8,1170.9 L502.7,1170.7 L504.7,1170.5 L506.7,1170.3 L508.7,1170.1 L510.7,1169.9 L512.7,1169.7 L514.7,1169.5 L516.7,1169.3 L518.7,1169.2 L520.7,1169.0 L522.7,1168.8 L524.6,1168.7 L526.6,1168.6 L528.6,1168.5 L530.6,1168.3 L532.6,1168.2 L534.6,1168.1 L536.6,1168.0 L538.6,1167.8 L540.6,1167.7 L542.6,1167.6 L544.6,1167.5 L546.6,1167.3 L548.6,1167.2 L550.6,1167.1 L552.6,1167.0 L554.6,1166.8 L556.6,1166.7 L558.6,1166.6 L560.6,1166.5 L562.6,1166.5 L564.6,1166.5 L566.6,1166.4 L568.6,1166.4 L570.6,1166.4 L572.6,1166.4 L574.6,1166.4 L576.6,1166.4 L578.6,1166.4 L580.6,1166.3 L582.6,1166.3 L584.6,1166.3 L586.6,1166.3 L588.6,1166.3 L590.6,1166.3 L592.6,1166.2 L594.6,1166.2 L596.6,1166.2 L598.6,1166.2 L600.6,1166.2 L602.6,1166.2 L604.6,1166.1 L606.6,1166.1 L608.6,1166.1 L610.6,1166.1 L612.6,1166.1 L614.6,1166.1 L616.6,1166.1 L618.6,1166.0 L620.6,1166.0 L622.6,1166.0 L624.6,1166.0 L626.6,1166.0 L628.6,1166.0 L630.6,1165.9 L632.6,1165.9 L634.6,1165.9 L636.6,1165.9 L638.6,1165.9 L640.6,1165.9 L642.6,1165.9 L644.6,1165.8 L646.6,1165.8 L648.6,1165.8 L650.6,1165.8 L652.6,1165.8 L654.6,1165.8 L656.6,1165.7 L658.6,1165.7 L660.6,1165.7 L662.6,1165.7 L664.6,1165.7 L666.6,1165.7 L668.6,1165.6 L670.6,1165.6 L672.6,1165.6 L674.6,1165.6 L676.6,1165.6 L678.6,1165.6 L680.6,1165.6 L682.6,1165.5 L684.6,1165.5 L686.6,1165.5 L688.6,1165.5 L690.6,1165.5 L692.6,1165.5 L694.6,1165.4 L696.6,1165.4 L698.6,1165.4 L700.6,1165.4 L702.6,1165.4 L704.6,1165.4 L706.6,1165.4 L708.6,1165.4 L710.6,1165.4 L712.6,1165.4 L714.6,1165.4 L716.6,1165.4 L718.6,1165.4 L720.6,1165.4 L722.6,1165.4 L724.6,1165.4 L726.6,1165.4 L728.6,1165.4 L730.6,1165.4 L732.6,1165.4 L734.6,1165.4 L736.6,1165.4 L738.6,1165.3 L740.6,1165.3 L742.6,1165.2 L744.6,1165.2 L746.6,1165.1 L748.6,1165.1 L750.6,1165.0 L752.6,1165.0 L754.6,1165.0 L756.6,1164.9 L758.6,1164.9 L760.6,1164.8 L762.6,1164.8 L764.6,1164.7 L766.6,1164.7 L768.6,1164.6 L770.5,1164.4 L772.5,1164.1 L774.5,1163.8 L776.4,1163.4 L778.4,1163.0 L780.4,1162.6 L782.3,1162.2 L784.3,1161.8 L786.2,1161.4 L788.2,1161.0 L790.2,1160.7 L792.1,1160.3 L794.1,1160.0 L796.1,1159.7 L798.1,1159.3 L800.0,1159.0 L802.0,1158.7 L804.0,1158.4 L806.0,1158.0 L807.9,1157.7 L809.9,1157.4 L811.9,1157.0 L813.8,1156.7 L815.8,1156.3 L817.7,1155.9 L819.7,1155.4 L821.6,1155.0 L823.6,1154.5 L825.5,1154.1 L827.5,1153.6 L829.4,1153.2 L831.4,1152.7 L833.3,1152.3 L835.3,1151.8 L837.2,1151.4 L839.2,1150.9 L841.1,1150.4 L843.1,1150.0 L845.0,1149.5 L847.0,1149.0 L848.9,1148.5 L850.8,1148.0 L852.8,1147.5 L854.7,1147.0 L856.6,1146.4 L858.5,1145.8 L860.3,1145.0 L862.1,1144.1 L863.9,1143.2 L865.6,1142.2 L867.4,1141.3 L869.1,1140.3 L870.9,1139.4 L872.6,1138.4 L874.4,1137.5 L876.2,1136.6 L878.1,1135.9 L879.9,1135.2 L881.8,1134.5 L883.7,1133.8 L885.6,1133.2 L887.5,1132.5 L889.4,1131.8 L891.2,1131.2 L893.1,1130.6 L895.1,1130.0 L897.0,1129.5 L898.9,1129.0 L900.9,1128.5 L902.8,1128.0 L904.7,1127.5 L906.7,1127.0 L908.6,1126.5 L910.5,1126.0 L912.5,1125.5 L914.4,1124.9 L916.3,1124.3 L918.2,1123.7 L920.0,1122.9 L921.8,1122.0 L923.5,1121.0 L925.2,1120.0 L926.9,1118.9 L928.6,1117.9 L930.3,1116.8 L932.0,1115.9 L933.8,1115.0 L935.7,1114.3 L937.6,1113.7 L939.5,1113.1 L941.4,1112.5 L943.3,1111.9 L945.2,1111.2 L947.1,1110.6 L948.9,1109.9 L950.8,1109.1 L952.7,1108.4 L954.5,1107.6 L956.4,1106.9 L958.3,1106.2 L960.1,1105.6 L962.0,1105.0 L964.0,1104.4 L965.8,1103.7 L967.7,1103.1 L969.5,1102.2 L971.3,1101.3 L973.0,1100.4 L974.8,1099.3 L976.5,1098.3 L978.2,1097.3 L979.9,1096.3 L981.6,1095.2 L983.3,1094.2 L985.1,1093.2 L986.8,1092.2 L988.5,1091.2 L990.2,1090.2 L991.9,1089.1 L993.6,1088.0 L995.3,1086.9 L996.9,1085.8 L998.5,1084.6 L1000.1,1083.4 L1001.7,1082.2 L1003.2,1080.9 L1004.7,1079.5 L1006.2,1078.2 L1007.6,1076.8 L1009.1,1075.5 L1010.6,1074.1 L1012.1,1072.8 L1013.6,1071.5 L1015.1,1070.2 L1016.7,1069.0 L1018.4,1067.8 L1020.0,1066.7 L1021.6,1065.5 L1023.2,1064.3 L1024.8,1063.1 L1026.3,1061.8 L1027.7,1060.4 L1029.1,1059.0 L1030.5,1057.6 L1031.9,1056.1 L1033.3,1054.6 L1034.6,1053.2 L1035.9,1051.7 L1037.2,1050.2 L1038.5,1048.6 L1039.6,1047.0 L1040.8,1045.4 L1041.9,1043.7 L1043.1,1042.1 L1044.2,1040.4 L1045.4,1038.8 L1046.7,1037.3 L1048.0,1035.8 L1049.3,1034.3 L1050.6,1032.8 L1051.9,1031.3 L1053.3,1029.8 L1054.6,1028.3 L1055.9,1026.8 L1057.2,1025.2 L1058.4,1023.6 L1059.6,1022.0 L1060.7,1020.4 L1061.9,1018.8 L1063.0,1017.1 L1064.2,1015.5 L1065.3,1013.8 L1066.5,1012.2 L1067.6,1010.6 L1068.8,1008.9 L1069.9,1007.3 L1071.1,1005.7 L1072.2,1004.0 L1073.3,1002.3 L1074.3,1000.6 L1075.3,998.9 L1076.3,997.2 L1077.2,995.4 L1078.2,993.6 L1079.1,991.9 L1080.0,990.1 L1081.0,988.3 L1081.9,986.6 L1082.9,984.8 L1083.8,983.0 L1084.7,981.3 L1085.7,979.5 L1086.6,977.7 L1087.5,976.0 L1088.5,974.2 L1089.4,972.4 L1090.4,970.7 L1091.3,968.9 L1092.2,967.1 L1093.2,965.4 L1094.1,963.6 L1095.0,961.8 L1096.0,960.1 L1096.9,958.3 L1097.8,956.5 L1098.8,954.7 L1099.7,953.0 L1100.6,951.2 L1101.5,949.4 L1102.5,947.7 L1103.4,945.9 L1104.3,944.1 L1105.2,942.3 L1106.1,940.5 L1107.0,938.7 L1107.8,936.9 L1108.6,935.1 L1109.4,933.2 L1110.2,931.4 L1111.0,929.6 L1111.8,927.7 L1112.6,925.9 L1113.4,924.1 L1114.2,922.2 L1115.0,920.4 L1115.8,918.6 L1116.6,916.7 L1117.4,914.9 L1118.1,913.1 L1118.9,911.2 L1119.7,909.4 L1120.5,907.6 L1121.3,905.7 L1122.2,903.9 L1123.0,902.1 L1123.8,900.3 L1124.7,898.5 L1125.5,896.6 L1126.4,894.8 L1127.2,893.0 L1128.0,891.2 L1128.9,889.4 L1129.7,887.6 L1130.6,885.8 L1131.4,883.9 L1132.3,882.1 L1133.1,880.3 L1133.9,878.5 L1134.8,876.7 L1135.6,874.9 L1136.5,873.1 L1137.3,871.3 L1138.2,869.4 L1139.0,867.6 L1139.9,865.8 L1140.7,864.0 L1141.6,862.2 L1142.5,860.4 L1143.3,858.6 L1144.2,856.8 L1145.0,855.0 L1145.9,853.2 L1146.8,851.4 L1147.6,849.6 L1148.5,847.8 L1149.4,846.0 L1150.3,844.2 L1151.3,842.5 L1152.4,840.8 L1153.5,839.2 L1154.7,837.5 L1155.8,835.9 L1157.0,834.3 L1158.1,832.6 L1159.1,830.9 L1160.1,829.1 L1161.0,827.4 L1161.9,825.6 L1162.8,823.8 L1163.7,822.0 L1164.6,820.2 L1165.5,818.4 L1166.4,816.7 L1167.4,814.9 L1168.3,813.2 L1169.4,811.5 L1170.4,809.8 L1171.5,808.1 L1172.5,806.4 L1173.6,804.7 L1174.7,803.0 L1175.7,801.3 L1176.8,799.6 L1177.8,797.9 L1178.9,796.2 L1180.0,794.5 L1181.0,792.8 L1182.1,791.1 L1183.2,789.4 L1184.3,787.8 L1185.3,786.1 L1186.4,784.4 L1187.4,782.6 L1188.4,780.9 L1189.3,779.1 L1190.2,777.4 L1191.1,775.6 L1192.0,773.8 L1193.0,772.0 L1193.9,770.3 L1194.9,768.6 L1196.1,766.9 L1197.3,765.4 L1198.6,763.9 L1199.9,762.4 L1201.3,760.9 L1202.6,759.4 L1204.0,758.0 L1205.5,756.7 L1207.0,755.5 L1208.7,754.5 L1210.5,753.5 L1212.3,752.7 L1214.1,751.9 L1216.0,751.4 L1217.9,751.0 L1219.9,750.7 L1221.9,750.5 L1223.8,750.3 L1225.8,750.3 L1227.8,750.5 L1229.7,750.9 L1231.6,751.5 L1233.4,752.1 L1235.3,752.8 L1237.1,753.6 L1238.8,754.5 L1240.3,755.6 L1241.6,757.0 L1242.8,758.6 L1243.8,760.3 L1244.9,762.0 L1245.9,763.7 L1247.0,765.4 L1248.0,767.1 L1249.1,768.7 L1250.3,770.4 L1251.4,772.0 L1252.6,773.7 L1253.7,775.3 L1254.8,777.0 L1256.0,778.6 L1257.1,780.3 L1258.1,782.0 L1259.2,783.7 L1260.3,785.3 L1261.4,787.0 L1262.4,788.7 L1263.4,790.5 L1264.2,792.2 L1265.0,794.1 L1265.6,796.0 L1266.2,797.9 L1266.8,799.8 L1267.4,801.7 L1268.0,803.6 L1268.7,805.5 L1269.4,807.3 L1270.2,809.2 L1270.9,811.1 L1271.6,812.9 L1272.3,814.8 L1272.9,816.7 L1273.5,818.6 L1274.1,820.5 L1274.6,822.4 L1275.2,824.4 L1275.7,826.3 L1276.4,828.2 L1277.1,830.0 L1278.0,831.8 L1278.9,833.6 L1279.9,835.3 L1280.8,837.1 L1281.8,838.8 L1282.7,840.6 L1283.5,842.4 L1284.3,844.2 L1285.0,846.1 L1285.7,848.0 L1286.4,849.9 L1287.1,851.7 L1287.8,853.6 L1288.4,855.5 L1289.0,857.4 L1289.6,859.3 L1290.2,861.2 L1290.8,863.2 L1291.4,865.1 L1292.0,867.0 L1292.6,868.9 L1293.3,870.8 L1293.9,872.6 L1294.6,874.5 L1295.3,876.4 L1296.0,878.3 L1296.7,880.2 L1297.3,882.1 L1298.0,883.9 L1298.6,885.8 L1299.3,887.7 L1300.0,889.6 L1300.8,891.4 L1301.7,893.1 L1302.7,894.9 L1303.8,896.6 L1304.8,898.3 L1305.9,900.0 L1306.9,901.7 L1307.9,903.4 L1308.8,905.2 L1309.7,907.0 L1310.5,908.8 L1311.2,910.7 L1311.9,912.5 L1312.7,914.4 L1313.3,916.3 L1314.0,918.2 L1314.6,920.1 L1315.2,922.0 L1315.8,923.9 L1316.4,925.8 L1317.0,927.7 L1317.8,929.5 L1318.6,931.3 L1319.5,933.1 L1320.4,934.9 L1321.3,936.7 L1322.1,938.5 L1323.0,940.3 L1323.8,942.2 L1324.5,944.0 L1325.3,945.9 L1326.0,947.7 L1326.8,949.6 L1327.5,951.4 L1328.2,953.3 L1328.9,955.2 L1329.6,957.1 L1330.3,958.9 L1331.0,960.8 L1331.7,962.7 L1332.4,964.6 L1333.1,966.4 L1333.8,968.3 L1334.6,970.1 L1335.3,972.0 L1336.1,973.9 L1336.9,975.7 L1337.7,977.5 L1338.6,979.3 L1339.6,981.0 L1340.6,982.7 L1341.7,984.4 L1342.7,986.2 L1343.6,987.9 L1344.6,989.7 L1345.4,991.5 L1346.2,993.3 L1347.0,995.2 L1347.7,997.0 L1348.5,998.8 L1349.3,1000.7 L1350.2,1002.4 L1351.2,1004.2 L1352.2,1005.9 L1353.2,1007.6 L1354.2,1009.3 L1355.2,1011.1 L1356.2,1012.8 L1357.1,1014.6 L1357.9,1016.4 L1358.6,1018.3 L1359.4,1020.1 L1360.2,1022.0 L1361.0,1023.8 L1361.8,1025.6 L1362.7,1027.4 L1363.7,1029.1 L1364.7,1030.8 L1365.7,1032.6 L1366.8,1034.3 L1367.7,1036.0 L1368.7,1037.8 L1369.6,1039.5 L1370.6,1041.3 L1371.5,1043.1 L1372.4,1044.9 L1373.2,1046.7 L1374.1,1048.5 L1375.0,1050.3 L1375.9,1052.1 L1376.8,1053.8 L1377.7,1055.6 L1378.6,1057.4 L1379.5,1059.2 L1380.5,1061.0 L1381.5,1062.7 L1382.5,1064.4 L1383.6,1066.1 L1384.7,1067.7 L1385.8,1069.4 L1387.0,1071.0 L1388.0,1072.7 L1389.0,1074.4 L1389.9,1076.2 L1390.7,1078.0 L1391.3,1079.9 L1392.0,1081.8 L1392.7,1083.7 L1393.4,1085.5 L1394.2,1087.4 L1395.1,1089.2 L1396.0,1090.9 L1396.9,1092.7 L1397.9,1094.5 L1398.9,1096.2 L1399.9,1097.9 L1401.0,1099.6 L1402.1,1101.2 L1403.3,1102.8 L1404.5,1104.4 L1405.8,1106.0 L1407.0,1107.6 L1408.2,1109.2 L1409.4,1110.8 L1410.5,1112.4 L1411.7,1114.0 L1412.8,1115.7 L1414.0,1117.3 L1415.1,1119.0 L1416.3,1120.6 L1417.5,1122.2 L1418.7,1123.7 L1420.1,1125.2 L1421.5,1126.6 L1422.9,1128.1 L1424.3,1129.5 L1425.7,1130.9 L1427.1,1132.3 L1428.5,1133.7 L1429.8,1135.2 L1431.1,1136.7 L1432.4,1138.3 L1433.6,1139.9 L1434.8,1141.5 L1436.0,1143.0 L1437.3,1144.5 L1438.7,1145.9 L1440.2,1147.0 L1442.0,1147.9 L1443.8,1148.7 L1445.6,1149.4 L1447.5,1150.1 L1449.4,1150.8 L1451.2,1151.6 L1452.9,1152.6 L1454.5,1153.7 L1456.1,1154.9 L1457.7,1156.1 L1459.2,1157.4 L1460.8,1158.6 L1462.4,1159.8 L1464.1,1160.9 L1465.8,1162.0 L1467.5,1163.0 L1469.2,1164.0 L1470.9,1165.1 L1472.6,1166.1 L1474.2,1167.2 L1475.9,1168.4 L1477.5,1169.6 L1479.1,1170.8 L1480.7,1172.0 L1482.3,1173.2 L1483.9,1174.4 L1485.6,1175.4 L1487.3,1176.3 L1489.1,1177.1 L1491.0,1177.7 L1492.9,1178.3 L1494.8,1178.9 L1496.7,1179.6 L1498.5,1180.4 L1500.3,1181.2 L1502.0,1182.2 L1503.8,1183.2 L1505.5,1184.3 L1507.2,1185.3 L1508.8,1186.4 L1510.5,1187.5 L1512.1,1188.7 L1513.7,1189.9 L1515.2,1191.2 L1516.8,1192.4 L1518.4,1193.7 L1519.9,1194.9 L1521.5,1196.1 L1523.2,1197.2 L1524.9,1198.3 L1526.6,1199.4 L1528.3,1200.4 L1530.0,1201.5 L1531.7,1202.5 L1533.4,1203.5 L1535.2,1204.4 L1537.0,1205.3 L1538.8,1206.1 L1540.6,1207.0 L1542.4,1207.8 L1544.3,1208.5 L1546.2,1209.2 L1548.0,1209.9 L1549.9,1210.5 L1551.8,1211.1 L1553.7,1211.8 L1555.6,1212.4 L1557.5,1213.2 L1559.3,1213.9 L1561.2,1214.7 L1563.0,1215.4 L1564.9,1216.2 L1566.8,1216.8 L1568.7,1217.4 L1570.6,1217.9 L1572.6,1218.3 L1574.5,1218.7 L1576.5,1219.1 L1578.4,1219.3 L1580.4,1219.4 L1582.4,1219.3 L1584.3,1219.1 L1586.3,1218.8 L1588.3,1218.4 L1590.2,1218.0 L1592.2,1217.7 L1594.2,1217.3 L1596.1,1217.0 L1598.1,1216.6 L1600.1,1216.3 L1602.0,1216.0 L1604.0,1215.6 L1606.0,1215.2 L1607.9,1214.7 L1609.8,1214.1 L1611.7,1213.5 L1613.6,1213.0 L1615.5,1212.5 L1617.3,1212.4 L1619.0,1212.8 L1620.7,1213.6 L1622.3,1214.6 L1623.9,1215.8 L1625.5,1217.0 L1627.1,1218.2 L1628.7,1219.4 L1630.4,1220.5 L1632.0,1221.6 L1633.7,1222.7 L1635.3,1223.9 L1637.0,1224.9 L1638.7,1225.9 L1640.5,1226.7 L1642.3,1227.3 L1644.3,1227.7 L1646.2,1227.9 L1648.2,1228.0 L1650.2,1228.1 L1652.2,1228.1 L1654.1,1227.9 L1656.0,1227.5 L1657.9,1226.8 L1659.7,1226.1 L1661.6,1225.3 L1663.4,1224.6 L1665.3,1223.8 L1667.2,1223.2 L1669.0,1222.5 L1670.9,1221.9 L1672.8,1221.2 L1674.7,1220.6 L1676.6,1219.9 L1678.5,1219.2 L1680.3,1218.4 L1682.2,1217.7 L1684.0,1217.0 L1685.9,1216.3 L1687.8,1215.8 L1689.7,1215.4 L1691.7,1215.3 L1693.7,1215.2 L1695.7,1215.2 L1697.7,1215.2 L1699.7,1215.3 L1701.7,1215.4 L1703.7,1215.5 L1705.7,1215.7 L1707.7,1215.8 L1709.6,1215.7 L1711.6,1215.6 L1713.5,1215.2 L1715.4,1214.7 L1717.3,1214.1 L1719.3,1213.6 L1721.2,1213.1 L1723.1,1212.7 L1725.1,1212.4 L1727.1,1212.3 L1729.1,1212.3 L1731.0,1212.3 L1732.8,1212.3 L1734.3,1212.3 L1737.0,1212.3" fill="none" stroke="#8000ff" stroke-width="8" stroke-dasharray="8 4" stroke-linejoin="miter" stroke-linecap="butt"/>
<path d="M301.0,124.0 L304.9,124.0 L306.2,124.0 L307.8,124.0 L309.4,124.0 L311.2,124.0 L313.1,124.0 L315.1,124.0 L317.0,124.0 L319.0,124.0 L321.0,124.0 L323.0,124.0 L325.0,124.0 L327.0,124.0 L329.0,124.0 L331.0,124.0 L333.0,124.0 L335.0,124.0 L337.0,124.0 L339.0,124.0 L341.0,124.0 L343.0,124.0 L345.0,124.0 L347.0,124.0 L349.0,124.0 L351.0,124.0 L353.0,124.0 L355.0,124.0 L357.0,124.0 L359.0,124.0 L361.0,124.0 L363.0,124.0 L365.0,124.0 L367.0,124.0 L369.0,124.0 L371.0,124.0 L373.0,124.0 L375.0,124.0 L377.0,124.0 L379.0,124.0 L381.0,124.0 L383.0,124.0 L385.0,124.0 L387.0,124.0 L389.0,124.0 L391.0,124.0 L393.0,124.0 L395.0,124.0 L397.0,124.0 L399.0,124.0 L401.0,124.0 L403.0,124.0 L405.0,124.0 L407.0,124.0 L409.0,124.0 L411.0,124.0 L413.0,124.1 L415.0,124.1 L417.0,124.1 L419.0,124.1 L421.0,124.2 L423.0,124.2 L425.0,124.3 L427.0,124.3 L429.0,124.4 L431.0,124.5 L433.0,124.5 L435.0,124.6 L437.0,124.6 L439.0,124.7 L441.0,124.7 L443.0,124.8 L445.0,124.9 L447.0,124.9 L449.0,125.0 L451.0,125.0 L453.0,125.1 L455.0,125.1 L457.0,125.2 L459.0,125.3 L461.0,125.3 L463.0,125.4 L465.0,125.4 L467.0,125.5 L469.0,125.5 L471.0,125.6 L473.0,125.7 L475.0,125.7 L477.0,125.8 L479.0,125.8 L481.0,125.9 L483.0,125.9 L485.0,126.0 L487.0,126.1 L489.0,126.1 L491.0,126.2 L493.0,126.2 L495.0,126.3 L497.0,126.3 L499.0,126.4 L501.0,126.5 L503.0,126.5 L505.0,126.6 L507.0,126.6 L509.0,126.7 L511.0,126.7 L513.0,126.8 L515.0,126.9 L517.0,126.9 L519.0,127.0 L521.0,127.0 L523.0,127.1 L525.0,127.1 L527.0,127.2 L529.0,127.3 L531.0,127.3 L533.0,127.4 L535.0,127.4 L537.0,127.5 L538.9,127.5 L540.9,127.6 L542.9,127.7 L544.9,127.7 L546.9,127.8 L548.9,127.9 L550.9,127.9 L552.9,128.0 L554.9,128.1 L556.9,128.2 L558.9,128.3 L560.9,128.4 L562.9,128.5 L564.9,128.6 L566.9,128.7 L568.9,128.8 L570.9,129.0 L572.9,129.1 L574.9,129.2 L576.9,129.3 L578.9,129.4 L580.9,129.5 L582.9,129.7 L584.9,129.8 L586.9,129.9 L588.9,130.0 L590.9,130.1 L592.9,130.3 L594.9,130.4 L596.9,130.5 L598.9,130.6 L600.9,130.7 L602.9,130.9 L604.9,131.0 L606.9,131.1 L608.8,131.2 L610.8,131.3 L612.8,131.5 L614.8,131.6 L616.8,131.7 L618.8,131.8 L620.8,132.0 L622.8,132.1 L624.8,132.3 L626.8,132.4 L628.8,132.6 L630.8,132.7 L632.8,132.9 L634.8,133.0 L636.8,133.2 L638.8,133.3 L640.8,133.5 L642.8,133.7 L644.8,133.8 L646.7,134.0 L648.7,134.1 L650.7,134.3 L652.7,134.5 L654.7,134.6 L656.7,134.8 L658.7,134.9 L660.7,135.1 L662.7,135.3 L664.7,135.4 L666.7,135.6 L668.7,135.7 L670.7,135.9 L672.7,136.1 L674.7,136.2 L676.6,136.4 L678.6,136.5 L680.6,136.7 L682.6,136.9 L684.6,137.0 L686.6,137.2 L688.6,137.3 L690.6,137.5 L692.6,137.6 L694.6,137.8 L696.6,138.0 L698.6,138.1 L700.6,138.3 L702.6,138.4 L704.6,138.6 L706.6,138.8 L708.5,138.9 L710.5,139.1 L712.5,139.2 L714.5,139.4 L716.5,139.6 L718.5,139.7 L720.5,139.9 L722.5,140.0 L724.5,140.2 L726.5,140.3 L728.5,140.5 L730.5,140.6 L732.5,140.7 L734.5,140.9 L736.5,141.0 L738.5,141.2 L740.5,141.3 L742.5,141.5 L744.4,141.6 L746.4,141.7 L748.4,141.9 L750.4,142.0 L752.4,142.2 L754.4,142.3 L756.4,142.5 L758.4,142.6 L760.4,142.7 L762.4,142.9 L764.4,143.0 L766.4,143.2 L768.4,143.3 L770.4,143.5 L772.4,143.6 L774.4,143.7 L776.4,143.9 L778.4,144.0 L780.4,144.2 L782.3,144.3 L784.3,144.5 L786.3,144.6 L788.3,144.8 L790.3,144.9 L792.3,145.1 L794.3,145.2 L796.3,145.4 L798.3,145.5 L800.3,145.7 L802.3,145.8 L804.3,145.9 L806.3,146.1 L808.3,146.2 L810.3,146.4 L812.3,146.5 L814.3,146.7 L816.3,146.8 L818.3,147.0 L820.2,147.1 L822.2,147.3 L824.2,147.4 L826.2,147.6 L828.2,147.8 L830.2,147.9 L832.2,148.1 L834.2,148.3 L836.2,148.5 L838.2,148.7 L840.2,148.9 L842.2,149.1 L844.1,149.4 L846.1,149.6 L848.1,149.8 L850.1,150.0 L852.1,150.2 L854.1,150.5 L856.1,150.7 L858.1,150.9 L860.0,151.1 L862.0,151.3 L864.0,151.6 L866.0,151.8 L868.0,152.0 L870.0,152.2 L872.0,152.5 L874.0,152.7 L875.9,152.9 L877.9,153.2 L879.9,153.4 L881.9,153.6 L883.9,153.9 L885.9,154.1 L887.9,154.3 L889.8,154.6 L891.8,154.8 L893.8,155.0 L895.8,155.3 L897.8,155.5 L899.8,155.8 L901.8,156.0 L903.7,156.3 L905.7,156.5 L907.7,156.8 L909.7,157.0 L911.7,157.3 L913.7,157.6 L915.6,157.8 L917.6,158.1 L919.6,158.3 L921.6,158.6 L923.6,158.9 L925.5,159.2 L927.5,159.4 L929.5,159.7 L931.5,160.0 L933.5,160.3 L935.4,160.6 L937.4,160.9 L939.4,161.2 L941.4,161.5 L943.3,161.8 L945.3,162.1 L947.3,162.4 L949.3,162.8 L951.2,163.1 L953.2,163.4 L955.2,163.7 L957.2,164.0 L959.2,164.3 L961.1,164.5 L963.1,164.8 L965.1,165.1 L967.1,165.4 L969.1,165.7 L971.0,165.9 L973.0,166.2 L975.0,166.5 L977.0,166.7 L979.0,167.0 L981.0,167.3 L982.9,167.5 L984.9,167.8 L986.9,168.0 L988.9,168.2 L990.9,168.4 L992.9,168.6 L994.9,168.8 L996.9,169.0 L998.8,169.2 L1000.8,169.4 L1002.8,169.6 L1004.8,169.8 L1006.8,170.0 L1008.8,170.2 L1010.8,170.4 L1012.8,170.6 L1014.8,170.7 L1016.8,170.9 L1018.7,171.1 L1020.7,171.3 L1022.7,171.5 L1024.7,171.7 L1026.7,172.0 L1028.7,172.2 L1030.7,172.4 L1032.7,172.7 L1034.6,172.9 L1036.6,173.2 L1038.6,173.4 L1040.6,173.7 L1042.6,173.9 L1044.6,174.2 L1046.5,174.5 L1048.5,174.7 L1050.5,175.0 L1052.5,175.3 L1054.5,175.6 L1056.5,175.8 L1058.4,176.1 L1060.4,176.4 L1062.4,176.7 L1064.4,177.0 L1066.3,177.3 L1068.3,177.6 L1070.3,177.9 L1072.3,178.2 L1074.2,178.5 L1076.2,178.8 L1078.2,179.2 L1080.2,179.5 L1082.1,179.8 L1084.1,180.2 L1086.1,180.6 L1088.0,180.9 L1090.0,181.3 L1092.0,181.7 L1093.9,182.1 L1095.9,182.5 L1097.8,182.9 L1099.8,183.4 L1101.7,183.8 L1103.7,184.2 L1105.7,184.6 L1107.6,184.9 L1109.6,185.3 L1111.6,185.7 L1113.5,186.1 L1115.5,186.5 L1117.4,186.8 L1119.4,187.2 L1121.4,187.6 L1123.3,187.9 L1125.3,188.3 L1127.3,188.7 L1129.2,189.0 L1131.2,189.4 L1133.2,189.8 L1135.1,190.1 L1137.1,190.5 L1139.1,190.9 L1141.0,191.2 L1143.0,191.6 L1145.0,192.0 L1146.9,192.4 L1148.9,192.8 L1150.8,193.2 L1152.8,193.6 L1154.8,194.0 L1156.7,194.4 L1158.7,194.9 L1160.6,195.3 L1162.6,195.8 L1164.5,196.2 L1166.5,196.7 L1168.4,197.2 L1170.3,197.7 L1172.3,198.1 L1174.2,198.6 L1176.1,199.1 L1178.1,199.6 L1180.0,200.1 L1182.0,200.6 L1183.9,201.1 L1185.9,201.5 L1187.8,202.0 L1189.8,202.4 L1191.7,202.8 L1193.7,203.2 L1195.6,203.6 L1197.6,204.1 L1199.5,204.5 L1201.5,204.9 L1203.5,205.3 L1205.4,205.7 L1207.4,206.1 L1209.3,206.5 L1211.3,206.9 L1213.3,207.3 L1215.2,207.7 L1217.2,208.1 L1219.1,208.5 L1221.1,208.9 L1223.0,209.4 L1225.0,209.8 L1226.9,210.3 L1228.9,210.8 L1230.8,211.2 L1232.7,211.7 L1234.7,212.2 L1236.6,212.7 L1238.5,213.2 L1240.5,213.8 L1242.4,214.3 L1244.3,214.8 L1246.3,215.4 L1248.2,215.9 L1250.1,216.5 L1252.0,217.0 L1254.0,217.5 L1255.9,218.1 L1257.8,218.6 L1259.7,219.2 L1261.6,219.7 L1263.6,220.3 L1265.5,220.9 L1267.4,221.5 L1269.3,222.1 L1271.2,222.7 L1273.1,223.3 L1275.0,223.9 L1276.9,224.6 L1278.8,225.2 L1280.7,225.9 L1282.6,226.5 L1284.5,227.2 L1286.3,227.8 L1288.2,228.5 L1290.1,229.2 L1292.0,229.9 L1293.8,230.6 L1295.7,231.3 L1297.6,232.0 L1299.4,232.7 L1301.3,233.4 L1303.2,234.1 L1305.1,234.7 L1307.0,235.4 L1308.9,236.0 L1310.8,236.6 L1312.7,237.3 L1314.6,237.9 L1316.5,238.5 L1318.4,239.2 L1320.3,239.8 L1322.2,240.4 L1324.1,241.1 L1325.9,241.8 L1327.8,242.4 L1329.7,243.1 L1331.6,243.7 L1333.5,244.4 L1335.4,245.1 L1337.3,245.7 L1339.2,246.4 L1341.0,247.0 L1342.9,247.7 L1344.8,248.4 L1346.7,249.1 L1348.6,249.8 L1350.4,250.5 L1352.3,251.2 L1354.2,251.9 L1356.0,252.6 L1357.9,253.4 L1359.7,254.1 L1361.6,254.8 L1363.5,255.6 L1365.3,256.3 L1367.2,257.1 L1369.0,257.8 L1370.9,258.6 L1372.7,259.3 L1374.6,260.1 L1376.4,260.9 L1378.3,261.6 L1380.1,262.4 L1382.0,263.2 L1383.8,264.0 L1385.6,264.7 L1387.5,265.5 L1389.3,266.2 L1391.2,267.0 L1393.0,267.8 L1394.9,268.5 L1396.7,269.3 L1398.5,270.1 L1400.3,271.0 L1402.1,271.8 L1404.0,272.6 L1405.8,273.5 L1407.6,274.3 L1409.4,275.1 L1411.2,275.9 L1413.1,276.7 L1414.9,277.4 L1416.8,278.2 L1418.7,278.9 L1420.5,279.6 L1422.4,280.4 L1424.3,281.1 L1426.1,281.8 L1428.0,282.5 L1429.8,283.2 L1431.7,284.0 L1433.6,284.7 L1435.5,285.4 L1437.3,286.1 L1439.2,286.8 L1441.1,287.5 L1443.0,288.1 L1444.8,288.8 L1446.7,289.5 L1448.6,290.1 L1450.5,290.8 L1452.4,291.5 L1454.3,292.1 L1456.2,292.8 L1458.0,293.5 L1459.9,294.2 L1461.8,294.9 L1463.7,295.6 L1465.5,296.3 L1467.4,297.1 L1469.2,297.9 L1471.0,298.7 L1472.8,299.5 L1474.6,300.4 L1476.4,301.3 L1478.2,302.2 L1479.9,303.2 L1481.6,304.2 L1483.2,305.2 L1484.8,306.4 L1486.3,307.6 L1487.8,308.9 L1489.3,310.2 L1490.7,311.5 L1492.2,312.9 L1493.6,314.2 L1495.1,315.6 L1496.6,316.9 L1498.1,318.2 L1499.6,319.5 L1501.1,320.8 L1502.7,322.0 L1504.3,323.2 L1505.8,324.5 L1507.4,325.7 L1509.0,326.8 L1510.7,328.0 L1512.3,329.1 L1514.0,330.2 L1515.7,331.2 L1517.4,332.2 L1519.2,333.2 L1520.9,334.1 L1522.7,335.0 L1524.5,335.9 L1526.3,336.8 L1528.0,337.8 L1529.8,338.7 L1531.6,339.6 L1533.3,340.5 L1535.1,341.5 L1536.8,342.5 L1538.6,343.5 L1540.3,344.5 L1541.9,345.6 L1543.6,346.7 L1545.2,347.8 L1546.9,349.0 L1548.5,350.1 L1550.1,351.3 L1551.7,352.5 L1553.3,353.7 L1554.9,354.9 L1556.5,356.1 L1558.1,357.3 L1559.7,358.6 L1561.2,359.8 L1562.8,361.1 L1564.3,362.4 L1565.8,363.7 L1567.3,365.0 L1568.9,366.3 L1570.4,367.6 L1571.9,368.9 L1573.4,370.2 L1574.9,371.5 L1576.5,372.8 L1578.0,374.0 L1579.5,375.3 L1581.1,376.6 L1582.6,377.9 L1584.2,379.1 L1585.7,380.4 L1587.3,381.6 L1588.8,382.9 L1590.4,384.1 L1592.0,385.4 L1593.5,386.6 L1595.1,387.9 L1596.7,389.1 L1598.2,390.4 L1599.8,391.6 L1601.3,392.9 L1602.9,394.1 L1604.5,395.4 L1606.0,396.6 L1607.6,397.9 L1609.1,399.1 L1610.7,400.4 L1612.3,401.6 L1613.8,402.9 L1615.4,404.1 L1616.9,405.4 L1618.5,406.6 L1620.1,407.9 L1621.6,409.1 L1623.2,410.4 L1624.7,411.6 L1626.3,412.9 L1627.9,414.1 L1629.4,415.4 L1631.0,416.6 L1632.6,417.9 L1634.1,419.1 L1635.7,420.4 L1637.3,421.6 L1638.9,422.8 L1640.4,424.0 L1642.0,425.3 L1643.6,426.5 L1645.2,427.7 L1646.8,428.9 L1648.4,430.1 L1650.0,431.3 L1651.6,432.5 L1653.2,433.7 L1654.8,434.9 L1656.4,436.1 L1658.0,437.3 L1659.6,438.5 L1661.2,439.7 L1662.8,440.9 L1664.4,442.1 L1665.9,443.4 L1667.5,444.6 L1669.1,445.8 L1670.7,447.1 L1672.2,448.3 L1673.8,449.6 L1675.4,450.8 L1676.9,452.1 L1678.5,453.3 L1680.0,454.6 L1681.6,455.8 L1683.2,457.1 L1684.7,458.3 L1686.3,459.5 L1687.9,460.8 L1689.4,462.0 L1691.0,463.3 L1692.6,464.5 L1694.1,465.7 L1695.7,467.0 L1697.3,468.2 L1698.9,469.3 L1700.6,470.5 L1702.2,471.6 L1703.8,472.8 L1705.5,473.9 L1707.2,475.0 L1708.8,476.1 L1710.5,477.2 L1712.2,478.3 L1713.9,479.4 L1715.6,480.4 L1717.2,481.5 L1718.9,482.6 L1720.6,483.6 L1722.3,484.7 L1724.0,485.7 L1725.8,486.8 L1727.5,487.8 L1729.2,488.8 L1730.9,489.9 L1732.6,490.9 L1734.3,491.9 L1736.0,492.9 L1737.8,494.0 L1739.5,495.0 L1741.2,496.0 L1742.9,497.0 L1744.6,498.1 L1746.3,499.1 L1748.1,500.1 L1749.8,501.1 L1751.5,502.1 L1753.3,503.1 L1755.0,504.0 L1756.8,505.0 L1758.6,505.8 L1760.4,506.7 L1762.2,507.5 L1764.0,508.4 L1765.8,509.1 L1767.7,509.9 L1769.5,510.7 L1771.3,511.5 L1773.2,512.3 L1775.0,513.1 L1776.8,514.0 L1778.6,514.8 L1780.4,515.7 L1782.2,516.6 L1784.0,517.5 L1785.7,518.5 L1787.5,519.4 L1789.2,520.4 L1791.0,521.3 L1792.7,522.3 L1794.5,523.3 L1796.2,524.3 L1797.9,525.3 L1799.7,526.3 L1801.4,527.3 L1803.1,528.3 L1804.8,529.3 L1806.6,530.4 L1808.3,531.4 L1810.0,532.4 L1811.8,533.4 L1813.5,534.3 L1815.3,535.3 L1817.0,536.2 L1818.8,537.1 L1820.6,538.0 L1822.4,538.8 L1824.2,539.7 L1826.0,540.5 L1827.8,541.4 L1829.7,542.2 L1831.5,543.0 L1833.3,543.9 L1835.1,544.7 L1836.9,545.6 L1838.7,546.5 L1840.5,547.3 L1842.3,548.2 L1844.1,549.1 L1845.9,550.0 L1847.7,550.8 L1849.5,551.7 L1851.3,552.6 L1853.0,553.5 L1854.8,554.3 L1856.5,555.1 L1858.2,555.9 L1859.8,556.7 L1861.2,557.3 L1862.5,557.9 L1863.6,558.5 L1867.0,560.0" fill="none" stroke="#ff0000" stroke-width="8" stroke-linejoin="round" stroke-linecap="butt"/>
<path d="M301.0,124.3 L304.9,124.4 L306.2,124.6 L307.7,124.8 L309.4,125.0 L311.2,125.2 L313.0,125.4 L315.0,125.6 L316.9,125.8 L318.9,126.0 L320.9,126.3 L322.9,126.5 L324.8,126.7 L326.8,126.9 L328.8,127.1 L330.8,127.3 L332.8,127.5 L334.8,127.7 L336.8,127.9 L338.8,128.0 L340.8,128.1 L342.8,128.2 L344.8,128.3 L346.8,128.4 L348.8,128.5 L350.8,128.6 L352.8,128.7 L354.8,128.7 L356.8,128.8 L358.8,128.9 L360.8,129.0 L362.8,129.1 L364.7,129.1 L366.7,129.2 L368.7,129.3 L370.7,129.4 L372.7,129.5 L374.7,129.5 L376.7,129.6 L378.7,129.7 L380.7,129.8 L382.7,129.9 L384.7,129.9 L386.7,130.0 L388.7,130.1 L390.7,130.2 L392.7,130.2 L394.7,130.3 L396.7,130.4 L398.7,130.5 L400.7,130.6 L402.7,130.6 L404.7,130.7 L406.7,130.8 L408.7,130.9 L410.7,131.0 L412.7,131.0 L414.7,131.1 L416.7,131.2 L418.7,131.3 L420.7,131.4 L422.7,131.4 L424.7,131.5 L426.7,131.6 L428.7,131.7 L430.7,131.7 L432.7,131.8 L434.7,131.9 L436.7,132.0 L438.7,132.0 L440.7,132.1 L442.7,132.2 L444.7,132.3 L446.7,132.3 L448.7,132.4 L450.7,132.5 L452.7,132.5 L454.7,132.6 L456.7,132.7 L458.7,132.7 L460.7,132.8 L462.7,132.9 L464.7,132.9 L466.7,133.0 L468.7,133.1 L470.7,133.1 L472.7,133.2 L474.7,133.3 L476.7,133.3 L478.7,133.4 L480.7,133.5 L482.7,133.5 L484.7,133.6 L486.7,133.7 L488.7,133.7 L490.7,133.8 L492.7,133.9 L494.7,133.9 L496.7,134.0 L498.7,134.1 L500.7,134.1 L502.7,134.2 L504.7,134.3 L506.7,134.3 L508.7,134.4 L510.7,134.5 L512.7,134.5 L514.6,134.6 L516.6,134.7 L518.6,134.7 L520.6,134.8 L522.6,134.9 L524.6,134.9 L526.6,135.0 L528.6,135.1 L530.6,135.1 L532.6,135.2 L534.6,135.3 L536.6,135.3 L538.6,135.4 L540.6,135.5 L542.6,135.6 L544.6,135.6 L546.6,135.7 L548.6,135.8 L550.6,135.8 L552.6,135.9 L554.6,136.0 L556.6,136.1 L558.6,136.1 L560.6,136.2 L562.6,136.3 L564.6,136.4 L566.6,136.5 L568.6,136.6 L570.6,136.7 L572.6,136.8 L574.6,136.9 L576.6,137.0 L578.6,137.1 L580.6,137.2 L582.6,137.3 L584.6,137.3 L586.6,137.4 L588.6,137.5 L590.6,137.6 L592.6,137.7 L594.6,137.8 L596.6,137.9 L598.6,138.0 L600.6,138.1 L602.6,138.2 L604.6,138.3 L606.6,138.4 L608.6,138.5 L610.6,138.6 L612.6,138.7 L614.6,138.8 L616.6,138.8 L618.6,138.9 L620.6,139.0 L622.6,139.1 L624.5,139.2 L626.5,139.3 L628.5,139.4 L630.5,139.5 L632.5,139.6 L634.5,139.7 L636.5,139.8 L638.5,139.9 L640.5,140.0 L642.5,140.1 L644.5,140.3 L646.5,140.4 L648.5,140.5 L650.5,140.6 L652.5,140.8 L654.5,140.9 L656.5,141.0 L658.5,141.2 L660.5,141.3 L662.5,141.4 L664.5,141.6 L666.5,141.7 L668.5,141.8 L670.5,142.0 L672.5,142.1 L674.5,142.2 L676.5,142.4 L678.4,142.5 L680.4,142.6 L682.4,142.8 L684.4,142.9 L686.4,143.0 L688.4,143.2 L690.4,143.3 L692.4,143.4 L694.4,143.6 L696.4,143.7 L698.4,143.9 L700.4,144.0 L702.4,144.2 L704.4,144.3 L706.4,144.5 L708.4,144.7 L710.4,144.9 L712.4,145.0 L714.3,145.2 L716.3,145.4 L718.3,145.6 L720.3,145.8 L722.3,145.9 L724.3,146.1 L726.3,146.3 L728.3,146.5 L730.3,146.7 L732.3,146.8 L734.3,147.0 L736.3,147.2 L738.2,147.4 L740.2,147.6 L742.2,147.8 L744.2,147.9 L746.2,148.1 L748.2,148.3 L750.2,148.5 L752.2,148.7 L754.2,148.9 L756.2,149.1 L758.2,149.3 L760.1,149.5 L762.1,149.7 L764.1,149.9 L766.1,150.1 L768.1,150.3 L770.1,150.4 L772.1,150.6 L774.1,150.8 L776.1,151.0 L778.1,151.2 L780.1,151.4 L782.0,151.6 L784.0,151.8 L786.0,152.0 L788.0,152.2 L790.0,152.4 L792.0,152.6 L794.0,152.8 L796.0,153.0 L798.0,153.2 L800.0,153.4 L801.9,153.6 L803.9,153.7 L805.9,153.9 L807.9,154.1 L809.9,154.3 L811.9,154.5 L813.9,154.7 L815.9,154.9 L817.9,155.1 L819.9,155.3 L821.8,155.5 L823.8,155.7 L825.8,155.9 L827.8,156.2 L829.8,156.4 L831.8,156.6 L833.8,156.9 L835.8,157.1 L837.7,157.3 L839.7,157.6 L841.7,157.8 L843.7,158.1 L845.7,158.3 L847.7,158.6 L849.7,158.8 L851.6,159.1 L853.6,159.3 L855.6,159.6 L857.6,159.8 L859.6,160.1 L861.6,160.4 L863.5,160.6 L865.5,160.9 L867.5,161.1 L869.5,161.4 L871.5,161.7 L873.5,161.9 L875.4,162.2 L877.4,162.5 L879.4,162.7 L881.4,163.0 L883.4,163.3 L885.3,163.5 L887.3,163.8 L889.3,164.1 L891.3,164.3 L893.3,164.6 L895.2,164.9 L897.2,165.2 L899.2,165.5 L901.2,165.7 L903.2,166.0 L905.1,166.3 L907.1,166.6 L909.1,166.9 L911.1,167.2 L913.1,167.5 L915.0,167.8 L917.0,168.1 L919.0,168.4 L921.0,168.7 L923.0,169.0 L924.9,169.3 L926.9,169.6 L928.9,169.9 L930.9,170.2 L932.8,170.5 L934.8,170.8 L936.8,171.2 L938.8,171.5 L940.7,171.8 L942.7,172.1 L944.7,172.4 L946.7,172.7 L948.6,173.0 L950.6,173.3 L952.6,173.6 L954.6,173.9 L956.5,174.2 L958.5,174.5 L960.5,174.8 L962.5,175.1 L964.4,175.5 L966.4,175.8 L968.4,176.1 L970.4,176.4 L972.4,176.7 L974.3,177.0 L976.3,177.3 L978.3,177.6 L980.3,177.9 L982.2,178.2 L984.2,178.5 L986.2,178.8 L988.2,179.1 L990.1,179.4 L992.1,179.7 L994.1,180.1 L996.1,180.4 L998.0,180.7 L1000.0,181.0 L1002.0,181.3 L1004.0,181.7 L1005.9,182.0 L1007.9,182.3 L1009.9,182.6 L1011.9,183.0 L1013.8,183.3 L1015.8,183.6 L1017.8,183.9 L1019.8,184.2 L1021.7,184.5 L1023.7,184.8 L1025.7,185.1 L1027.7,185.4 L1029.6,185.7 L1031.6,186.0 L1033.6,186.3 L1035.6,186.6 L1037.6,186.9 L1039.5,187.2 L1041.5,187.4 L1043.5,187.7 L1045.5,188.0 L1047.5,188.2 L1049.4,188.5 L1051.4,188.7 L1053.4,189.0 L1055.4,189.2 L1057.4,189.4 L1059.4,189.7 L1061.4,189.9 L1063.4,190.1 L1065.3,190.3 L1067.3,190.6 L1069.3,190.8 L1071.3,191.0 L1073.3,191.3 L1075.3,191.5 L1077.3,191.8 L1079.2,192.0 L1081.2,192.3 L1083.2,192.5 L1085.2,192.8 L1087.2,193.1 L1089.1,193.4 L1091.1,193.7 L1093.1,194.0 L1095.1,194.3 L1097.0,194.7 L1099.0,195.0 L1101.0,195.3 L1103.0,195.6 L1104.9,196.0 L1106.9,196.3 L1108.9,196.6 L1110.9,196.9 L1112.8,197.2 L1114.8,197.5 L1116.8,197.9 L1118.8,198.2 L1120.7,198.5 L1122.7,198.8 L1124.7,199.1 L1126.7,199.4 L1128.6,199.7 L1130.6,200.0 L1132.6,200.3 L1134.6,200.6 L1136.5,201.0 L1138.5,201.3 L1140.5,201.6 L1142.5,201.9 L1144.4,202.2 L1146.4,202.5 L1148.4,202.8 L1150.4,203.2 L1152.3,203.5 L1154.3,203.8 L1156.3,204.1 L1158.3,204.5 L1160.2,204.8 L1162.2,205.1 L1164.2,205.5 L1166.1,205.8 L1168.1,206.1 L1170.1,206.5 L1172.1,206.8 L1174.0,207.2 L1176.0,207.6 L1177.9,207.9 L1179.9,208.3 L1181.9,208.7 L1183.8,209.1 L1185.8,209.5 L1187.7,209.9 L1189.7,210.4 L1191.6,210.8 L1193.6,211.3 L1195.5,211.7 L1197.5,212.1 L1199.4,212.6 L1201.4,213.1 L1203.3,213.5 L1205.3,214.0 L1207.2,214.4 L1209.2,214.9 L1211.1,215.4 L1213.1,215.8 L1215.0,216.3 L1217.0,216.8 L1218.9,217.3 L1220.8,217.8 L1222.8,218.2 L1224.7,218.7 L1226.6,219.2 L1228.6,219.7 L1230.5,220.2 L1232.5,220.7 L1234.4,221.2 L1236.3,221.7 L1238.3,222.2 L1240.2,222.7 L1242.1,223.2 L1244.1,223.7 L1246.0,224.3 L1247.9,224.8 L1249.9,225.3 L1251.8,225.9 L1253.7,226.4 L1255.6,227.0 L1257.5,227.6 L1259.4,228.2 L1261.4,228.7 L1263.3,229.3 L1265.2,229.9 L1267.1,230.5 L1269.0,231.1 L1270.9,231.7 L1272.8,232.3 L1274.7,232.9 L1276.6,233.5 L1278.5,234.1 L1280.4,234.7 L1282.3,235.3 L1284.2,236.0 L1286.1,236.6 L1288.0,237.3 L1289.9,238.0 L1291.8,238.7 L1293.7,239.3 L1295.5,240.0 L1297.4,240.7 L1299.3,241.4 L1301.2,242.1 L1303.1,242.7 L1305.0,243.4 L1306.8,244.0 L1308.7,244.7 L1310.6,245.3 L1312.5,245.9 L1314.4,246.5 L1316.3,247.2 L1318.2,247.8 L1320.1,248.4 L1322.0,249.1 L1323.9,249.8 L1325.8,250.4 L1327.6,251.1 L1329.5,251.8 L1331.4,252.6 L1333.2,253.3 L1335.1,254.0 L1337.0,254.8 L1338.8,255.5 L1340.7,256.2 L1342.5,257.0 L1344.4,257.7 L1346.2,258.5 L1348.1,259.3 L1349.9,260.1 L1351.8,260.9 L1353.6,261.7 L1355.4,262.5 L1357.2,263.3 L1359.0,264.1 L1360.9,265.0 L1362.7,265.8 L1364.5,266.6 L1366.4,267.3 L1368.2,268.1 L1370.1,268.9 L1371.9,269.6 L1373.8,270.3 L1375.6,271.1 L1377.5,271.8 L1379.3,272.6 L1381.2,273.3 L1383.0,274.1 L1384.8,274.9 L1386.6,275.8 L1388.5,276.6 L1390.3,277.5 L1392.1,278.3 L1393.9,279.2 L1395.7,280.0 L1397.5,280.9 L1399.3,281.7 L1401.2,282.5 L1403.0,283.2 L1404.9,284.0 L1406.7,284.8 L1408.5,285.6 L1410.4,286.3 L1412.2,287.1 L1414.1,287.9 L1415.9,288.7 L1417.7,289.5 L1419.5,290.3 L1421.3,291.2 L1423.1,292.1 L1424.9,293.0 L1426.7,293.8 L1428.5,294.8 L1430.3,295.7 L1432.1,296.6 L1433.8,297.5 L1435.6,298.4 L1437.4,299.3 L1439.2,300.2 L1441.0,301.1 L1442.7,302.0 L1444.5,302.9 L1446.3,303.9 L1448.1,304.8 L1449.9,305.7 L1451.6,306.6 L1453.4,307.5 L1455.2,308.5 L1457.0,309.4 L1458.7,310.3 L1460.5,311.2 L1462.3,312.1 L1464.1,313.0 L1465.9,313.9 L1467.7,314.7 L1469.5,315.6 L1471.3,316.5 L1473.1,317.3 L1474.9,318.2 L1476.7,319.1 L1478.5,319.9 L1480.3,320.8 L1482.1,321.7 L1483.9,322.6 L1485.6,323.5 L1487.4,324.4 L1489.2,325.3 L1491.0,326.2 L1492.8,327.1 L1494.6,328.0 L1496.4,328.9 L1498.2,329.8 L1500.0,330.7 L1501.8,331.6 L1503.6,332.4 L1505.4,333.3 L1507.1,334.2 L1508.9,335.1 L1510.7,336.0 L1512.5,336.9 L1514.3,337.8 L1516.0,338.8 L1517.8,339.8 L1519.5,340.7 L1521.2,341.7 L1523.0,342.7 L1524.7,343.7 L1526.4,344.7 L1528.2,345.8 L1529.9,346.8 L1531.6,347.8 L1533.3,348.8 L1535.0,349.9 L1536.7,351.0 L1538.4,352.0 L1540.0,353.1 L1541.7,354.2 L1543.4,355.3 L1545.1,356.4 L1546.7,357.6 L1548.4,358.7 L1550.0,359.8 L1551.7,360.9 L1553.3,362.1 L1554.9,363.2 L1556.5,364.4 L1558.1,365.6 L1559.7,366.9 L1561.2,368.1 L1562.7,369.4 L1564.3,370.7 L1565.7,372.1 L1567.2,373.4 L1568.7,374.7 L1570.2,376.1 L1571.6,377.4 L1573.1,378.8 L1574.6,380.1 L1576.1,381.4 L1577.6,382.8 L1579.2,384.0 L1580.7,385.3 L1582.3,386.5 L1583.8,387.8 L1585.4,389.0 L1587.0,390.2 L1588.6,391.4 L1590.2,392.6 L1591.8,393.8 L1593.4,395.0 L1595.0,396.2 L1596.6,397.4 L1598.2,398.6 L1599.7,399.9 L1601.3,401.1 L1602.8,402.4 L1604.4,403.7 L1605.9,405.0 L1607.4,406.3 L1608.9,407.6 L1610.4,408.9 L1611.9,410.2 L1613.5,411.5 L1615.0,412.8 L1616.5,414.1 L1618.0,415.4 L1619.6,416.7 L1621.1,417.9 L1622.7,419.2 L1624.2,420.5 L1625.8,421.7 L1627.3,423.0 L1628.9,424.2 L1630.5,425.5 L1632.0,426.7 L1633.6,427.9 L1635.2,429.2 L1636.8,430.4 L1638.3,431.6 L1639.9,432.9 L1641.5,434.1 L1643.1,435.3 L1644.7,436.5 L1646.3,437.7 L1647.9,438.9 L1649.5,440.1 L1651.1,441.3 L1652.7,442.5 L1654.3,443.7 L1655.9,444.9 L1657.5,446.1 L1659.1,447.3 L1660.7,448.5 L1662.3,449.6 L1664.0,450.8 L1665.6,451.9 L1667.3,453.0 L1669.0,454.1 L1670.7,455.1 L1672.4,456.2 L1674.1,457.2 L1675.8,458.3 L1677.5,459.3 L1679.2,460.4 L1680.9,461.4 L1682.6,462.4 L1684.3,463.5 L1686.0,464.5 L1687.7,465.6 L1689.4,466.7 L1691.0,467.8 L1692.7,468.9 L1694.3,470.1 L1695.9,471.2 L1697.6,472.4 L1699.2,473.6 L1700.8,474.7 L1702.5,475.8 L1704.1,477.0 L1705.8,478.1 L1707.4,479.2 L1709.1,480.3 L1710.8,481.4 L1712.5,482.5 L1714.1,483.5 L1715.8,484.6 L1717.5,485.7 L1719.2,486.7 L1720.9,487.8 L1722.6,488.8 L1724.3,489.9 L1726.0,490.9 L1727.7,492.0 L1729.5,493.0 L1731.2,494.0 L1732.9,495.1 L1734.6,496.1 L1736.3,497.1 L1738.0,498.1 L1739.8,499.2 L1741.5,500.2 L1743.2,501.2 L1744.9,502.2 L1746.6,503.3 L1748.3,504.3 L1750.1,505.3 L1751.8,506.3 L1753.5,507.2 L1755.3,508.2 L1757.1,509.1 L1758.9,510.0 L1760.7,510.8 L1762.5,511.7 L1764.3,512.5 L1766.1,513.3 L1768.0,514.1 L1769.8,514.8 L1771.6,515.6 L1773.5,516.4 L1775.3,517.3 L1777.1,518.1 L1778.9,519.0 L1780.7,519.9 L1782.5,520.8 L1784.2,521.7 L1786.0,522.6 L1787.8,523.6 L1789.5,524.5 L1791.3,525.5 L1793.0,526.5 L1794.8,527.5 L1796.5,528.4 L1798.2,529.4 L1800.0,530.4 L1801.7,531.5 L1803.4,532.5 L1805.1,533.5 L1806.8,534.5 L1808.6,535.5 L1810.3,536.5 L1812.0,537.5 L1813.8,538.5 L1815.5,539.4 L1817.3,540.4 L1819.1,541.2 L1820.9,542.1 L1822.7,543.0 L1824.5,543.8 L1826.3,544.7 L1828.1,545.5 L1830.0,546.3 L1831.8,547.2 L1833.6,548.0 L1835.4,548.9 L1837.2,549.7 L1839.0,550.6 L1840.8,551.5 L1842.6,552.4 L1844.4,553.2 L1846.2,554.1 L1848.0,555.0 L1849.7,555.9 L1851.5,556.8 L1853.3,557.8 L1855.1,558.7 L1856.8,559.6 L1858.6,560.6 L1860.4,561.5 L1862.1,562.4 L1863.9,563.4 L1865.7,564.3 L1867.4,565.3 L1869.2,566.2 L1871.0,567.0 L1872.7,567.9 L1874.5,568.6 L1876.2,569.3 L1877.9,570.0 L1879.5,570.6 L1880.9,571.1 L1882.2,571.5 L1883.2,571.9 L1886.8,573.0" fill="none" stroke="#008080" stroke-width="8" stroke-linejoin="round" stroke-linecap="butt"/>
<path d="M301.0,103.8 L304.9,103.8 L306.2,103.9 L307.8,103.9 L309.4,103.9 L311.2,104.0 L313.1,104.1 L315.0,104.2 L317.0,104.3 L319.0,104.4 L321.0,104.5 L323.0,104.6 L325.0,104.8 L327.0,104.9 L329.0,105.0 L331.0,105.2 L332.9,105.3 L334.9,105.4 L336.9,105.6 L338.9,105.7 L340.9,105.8 L342.9,106.0 L344.9,106.1 L346.9,106.3 L348.9,106.4 L350.9,106.5 L352.9,106.7 L354.9,106.8 L356.9,106.9 L358.9,107.1 L360.9,107.2 L362.9,107.3 L364.9,107.5 L366.9,107.6 L368.9,107.7 L370.9,107.8 L372.9,107.9 L374.9,108.0 L376.9,108.0 L378.9,108.1 L380.9,108.2 L382.9,108.2 L384.9,108.3 L386.9,108.3 L388.9,108.4 L390.9,108.4 L392.9,108.5 L394.9,108.5 L396.9,108.6 L398.8,108.7 L400.8,108.7 L402.8,108.8 L404.8,108.8 L406.8,108.9 L408.8,108.9 L410.8,109.0 L412.8,109.0 L414.8,109.1 L416.8,109.1 L418.8,109.2 L420.8,109.2 L422.8,109.3 L424.8,109.4 L426.8,109.4 L428.8,109.5 L430.8,109.5 L432.8,109.6 L434.8,109.6 L436.8,109.7 L438.8,109.7 L440.8,109.8 L442.8,109.8 L444.8,109.9 L446.8,109.9 L448.8,110.0 L450.8,110.1 L452.8,110.1 L454.8,110.2 L456.8,110.2 L458.8,110.3 L460.8,110.3 L462.8,110.4 L464.8,110.4 L466.8,110.5 L468.8,110.5 L470.8,110.6 L472.8,110.6 L474.8,110.7 L476.8,110.8 L478.8,110.8 L480.8,110.9 L482.8,110.9 L484.8,111.0 L486.8,111.0 L488.8,111.1 L490.8,111.1 L492.8,111.2 L494.8,111.2 L496.8,111.3 L498.8,111.3 L500.8,111.4 L502.8,111.5 L504.8,111.5 L506.8,111.6 L508.8,111.6 L510.8,111.7 L512.8,111.7 L514.8,111.8 L516.8,111.8 L518.8,111.9 L520.8,111.9 L522.8,112.0 L524.8,112.0 L526.8,112.1 L528.8,112.1 L530.8,112.2 L532.8,112.2 L534.8,112.3 L536.8,112.3 L538.8,112.4 L540.8,112.4 L542.8,112.5 L544.8,112.5 L546.8,112.6 L548.8,112.6 L550.8,112.7 L552.8,112.7 L554.8,112.8 L556.8,112.8 L558.8,112.9 L560.8,112.9 L562.8,113.0 L564.8,113.0 L566.8,113.1 L568.8,113.1 L570.8,113.2 L572.8,113.2 L574.8,113.3 L576.8,113.3 L578.8,113.4 L580.8,113.4 L582.8,113.5 L584.8,113.5 L586.8,113.6 L588.8,113.6 L590.8,113.7 L592.8,113.7 L594.8,113.8 L596.8,113.8 L598.8,113.9 L600.8,113.9 L602.8,114.0 L604.8,114.0 L606.8,114.1 L608.8,114.1 L610.8,114.2 L612.8,114.2 L614.8,114.3 L616.8,114.3 L618.8,114.4 L620.8,114.4 L622.8,114.5 L624.8,114.5 L626.8,114.6 L628.8,114.6 L630.8,114.7 L632.8,114.7 L634.8,114.8 L636.8,114.8 L638.8,114.9 L640.8,114.9 L642.8,115.0 L644.8,115.0 L646.8,115.1 L648.8,115.1 L650.8,115.2 L652.8,115.2 L654.8,115.3 L656.8,115.3 L658.8,115.4 L660.8,115.4 L662.8,115.5 L664.8,115.5 L666.8,115.6 L668.8,115.7 L670.8,115.7 L672.8,115.8 L674.8,115.8 L676.8,115.9 L678.8,116.0 L680.8,116.1 L682.8,116.1 L684.7,116.2 L686.7,116.3 L688.7,116.4 L690.7,116.4 L692.7,116.5 L694.7,116.6 L696.7,116.7 L698.7,116.8 L700.7,116.9 L702.7,116.9 L704.7,117.0 L706.7,117.1 L708.7,117.2 L710.7,117.3 L712.7,117.4 L714.7,117.4 L716.7,117.5 L718.7,117.6 L720.7,117.7 L722.7,117.8 L724.7,117.9 L726.7,117.9 L728.7,118.0 L730.7,118.1 L732.7,118.2 L734.7,118.3 L736.7,118.3 L738.7,118.4 L740.7,118.5 L742.7,118.6 L744.7,118.7 L746.7,118.8 L748.7,118.8 L750.7,118.9 L752.7,119.0 L754.7,119.1 L756.7,119.2 L758.7,119.3 L760.7,119.3 L762.7,119.4 L764.7,119.5 L766.7,119.6 L768.7,119.7 L770.7,119.9 L772.7,120.0 L774.7,120.1 L776.6,120.3 L778.6,120.5 L780.6,120.6 L782.6,120.8 L784.6,121.0 L786.6,121.2 L788.6,121.4 L790.6,121.6 L792.6,121.8 L794.6,122.0 L796.6,122.1 L798.6,122.3 L800.5,122.5 L802.5,122.7 L804.5,122.9 L806.5,123.1 L808.5,123.3 L810.5,123.5 L812.5,123.7 L814.5,124.0 L816.5,124.2 L818.4,124.5 L820.4,124.7 L822.4,125.0 L824.4,125.3 L826.4,125.6 L828.3,125.9 L830.3,126.2 L832.3,126.5 L834.3,126.8 L836.2,127.1 L838.2,127.4 L840.2,127.7 L842.2,128.0 L844.1,128.3 L846.1,128.6 L848.1,128.9 L850.1,129.3 L852.0,129.6 L854.0,129.9 L856.0,130.3 L858.0,130.6 L859.9,131.0 L861.9,131.3 L863.9,131.7 L865.8,132.1 L867.8,132.5 L869.7,132.9 L871.7,133.3 L873.7,133.7 L875.6,134.1 L877.6,134.6 L879.5,135.0 L881.5,135.5 L883.4,135.9 L885.3,136.4 L887.3,136.9 L889.2,137.5 L891.1,138.0 L893.0,138.5 L895.0,139.1 L896.9,139.7 L898.8,140.3 L900.7,140.9 L902.6,141.5 L904.5,142.1 L906.4,142.7 L908.3,143.3 L910.2,143.9 L912.1,144.6 L914.0,145.2 L915.9,145.8 L917.8,146.4 L919.7,147.0 L921.6,147.6 L923.6,148.2 L925.5,148.7 L927.4,149.3 L929.3,149.9 L931.2,150.4 L933.2,150.9 L935.1,151.5 L937.0,152.0 L938.9,152.5 L940.9,153.1 L942.8,153.6 L944.7,154.1 L946.7,154.6 L948.6,155.1 L950.5,155.6 L952.5,156.2 L954.4,156.7 L956.3,157.2 L958.2,157.8 L960.2,158.3 L962.1,158.8 L964.0,159.4 L965.9,159.9 L967.9,160.5 L969.8,161.0 L971.7,161.6 L973.6,162.1 L975.6,162.7 L977.5,163.2 L979.4,163.8 L981.3,164.3 L983.3,164.9 L985.2,165.4 L987.1,166.0 L989.0,166.6 L990.9,167.2 L992.8,167.7 L994.7,168.3 L996.6,169.0 L998.5,169.6 L1000.4,170.2 L1002.3,170.8 L1004.2,171.4 L1006.1,172.1 L1008.0,172.7 L1009.9,173.3 L1011.8,174.0 L1013.7,174.6 L1015.6,175.3 L1017.5,175.9 L1019.4,176.6 L1021.2,177.3 L1023.1,178.1 L1025.0,178.8 L1026.8,179.6 L1028.6,180.4 L1030.4,181.3 L1032.2,182.1 L1034.0,183.1 L1035.7,184.0 L1037.5,185.0 L1039.2,186.0 L1040.8,187.1 L1042.5,188.1 L1044.1,189.2 L1045.8,190.4 L1047.4,191.5 L1049.0,192.6 L1050.7,193.7 L1052.4,194.8 L1054.0,195.8 L1055.7,196.8 L1057.5,197.9 L1059.2,198.9 L1060.9,199.9 L1062.6,200.9 L1064.3,202.0 L1066.0,203.0 L1067.7,204.1 L1069.4,205.2 L1071.0,206.3 L1072.7,207.4 L1074.4,208.5 L1076.0,209.6 L1077.6,210.8 L1079.2,212.0 L1080.8,213.2 L1082.3,214.5 L1083.9,215.8 L1085.4,217.0 L1086.9,218.3 L1088.5,219.6 L1090.0,220.8 L1091.6,222.1 L1093.2,223.3 L1094.8,224.5 L1096.4,225.6 L1098.0,226.8 L1099.6,228.0 L1101.2,229.1 L1102.8,230.3 L1104.4,231.6 L1105.9,232.9 L1107.4,234.2 L1108.9,235.5 L1110.3,236.9 L1111.8,238.2 L1113.2,239.6 L1114.6,241.0 L1116.1,242.4 L1117.5,243.8 L1118.9,245.2 L1120.3,246.6 L1121.8,248.0 L1123.2,249.4 L1124.6,250.9 L1126.0,252.3 L1127.4,253.7 L1128.8,255.1 L1130.2,256.5 L1131.7,257.9 L1133.1,259.3 L1134.5,260.7 L1135.9,262.2 L1137.3,263.6 L1138.7,265.0 L1140.1,266.4 L1141.5,267.9 L1142.8,269.4 L1144.1,270.9 L1145.4,272.4 L1146.7,273.9 L1147.9,275.5 L1149.2,277.0 L1150.4,278.6 L1151.6,280.2 L1152.9,281.7 L1154.2,283.3 L1155.4,284.8 L1156.7,286.4 L1158.0,287.9 L1159.3,289.4 L1160.6,290.9 L1161.9,292.4 L1163.2,293.9 L1164.5,295.5 L1165.8,297.0 L1167.1,298.5 L1168.3,300.1 L1169.6,301.6 L1170.8,303.2 L1172.0,304.8 L1173.1,306.5 L1174.3,308.1 L1175.4,309.7 L1176.6,311.4 L1177.7,313.0 L1178.9,314.6 L1180.0,316.3 L1181.2,317.9 L1182.3,319.6 L1183.4,321.2 L1184.5,322.9 L1185.7,324.5 L1186.8,326.2 L1187.9,327.9 L1189.0,329.5 L1190.1,331.2 L1191.2,332.8 L1192.3,334.5 L1193.4,336.2 L1194.5,337.8 L1195.6,339.5 L1196.8,341.2 L1197.9,342.8 L1199.0,344.5 L1200.1,346.2 L1201.2,347.8 L1202.3,349.5 L1203.4,351.2 L1204.5,352.8 L1205.6,354.5 L1206.7,356.2 L1207.8,357.8 L1209.0,359.5 L1210.1,361.1 L1211.2,362.8 L1212.3,364.5 L1213.4,366.1 L1214.5,367.8 L1215.6,369.5 L1216.7,371.2 L1217.8,372.8 L1218.9,374.5 L1220.0,376.2 L1221.0,377.9 L1222.1,379.5 L1223.2,381.2 L1224.3,382.9 L1225.4,384.6 L1226.5,386.3 L1227.6,387.9 L1228.7,389.6 L1229.7,391.3 L1230.8,393.0 L1231.9,394.6 L1233.0,396.3 L1234.1,398.0 L1235.3,399.6 L1236.4,401.3 L1237.5,403.0 L1238.6,404.6 L1239.7,406.3 L1240.8,408.0 L1241.9,409.6 L1243.0,411.3 L1244.1,413.0 L1245.2,414.7 L1246.2,416.3 L1247.3,418.0 L1248.3,419.8 L1249.3,421.5 L1250.3,423.2 L1251.3,425.0 L1252.2,426.7 L1253.2,428.5 L1254.2,430.2 L1255.1,432.0 L1256.1,433.7 L1257.1,435.5 L1258.1,437.2 L1259.1,438.9 L1260.1,440.6 L1261.2,442.3 L1262.2,444.0 L1263.3,445.7 L1264.4,447.4 L1265.5,449.0 L1266.6,450.7 L1267.7,452.4 L1268.9,454.0 L1270.0,455.7 L1271.1,457.3 L1272.3,458.9 L1273.4,460.6 L1274.6,462.2 L1275.8,463.8 L1277.0,465.4 L1278.2,467.0 L1279.4,468.6 L1280.6,470.2 L1281.9,471.8 L1283.1,473.3 L1284.3,474.9 L1285.5,476.5 L1286.7,478.1 L1288.0,479.7 L1289.2,481.3 L1290.4,482.8 L1291.6,484.4 L1292.9,486.0 L1294.1,487.6 L1295.3,489.1 L1296.6,490.7 L1297.8,492.3 L1299.1,493.8 L1300.4,495.3 L1301.7,496.8 L1303.0,498.3 L1304.3,499.8 L1305.7,501.3 L1307.0,502.8 L1308.4,504.3 L1309.7,505.8 L1311.1,507.2 L1312.5,508.7 L1313.8,510.1 L1315.2,511.5 L1316.6,513.0 L1318.1,514.4 L1319.5,515.8 L1320.9,517.2 L1322.3,518.6 L1323.8,519.9 L1325.3,521.3 L1326.8,522.6 L1328.3,523.9 L1329.8,525.2 L1331.4,526.4 L1332.9,527.7 L1334.5,528.9 L1336.1,530.1 L1337.7,531.3 L1339.4,532.4 L1341.0,533.5 L1342.7,534.6 L1344.4,535.6 L1346.1,536.7 L1347.8,537.7 L1349.6,538.6 L1351.4,539.6 L1353.1,540.5 L1354.9,541.3 L1356.7,542.2 L1358.6,543.0 L1360.4,543.7 L1362.3,544.5 L1364.1,545.2 L1366.0,546.0 L1367.8,546.7 L1369.7,547.4 L1371.6,548.0 L1373.5,548.7 L1375.4,549.3 L1377.3,550.0 L1379.2,550.6 L1381.1,551.2 L1383.0,551.8 L1384.9,552.4 L1386.8,553.0 L1388.7,553.6 L1390.6,554.2 L1392.5,554.7 L1394.4,555.2 L1396.4,555.6 L1398.3,556.0 L1400.3,556.3 L1402.2,556.5 L1404.2,556.7 L1406.2,556.8 L1408.2,556.8 L1410.2,556.9 L1412.2,556.9 L1414.2,556.9 L1416.2,556.9 L1418.2,556.9 L1420.2,556.9 L1422.2,556.9 L1424.2,556.9 L1426.2,556.9 L1428.2,556.9 L1430.2,556.9 L1432.2,556.9 L1434.2,556.9 L1436.2,556.9 L1438.2,556.9 L1440.2,556.9 L1442.2,556.9 L1444.2,556.9 L1446.2,556.9 L1448.2,556.8 L1450.2,556.8 L1452.1,556.8 L1454.1,556.7 L1456.1,556.6 L1458.1,556.5 L1460.1,556.4 L1462.1,556.3 L1464.1,556.2 L1466.1,556.1 L1468.1,556.0 L1470.1,555.8 L1472.1,555.7 L1474.1,555.6 L1476.1,555.5 L1478.1,555.3 L1480.1,555.2 L1482.1,555.1 L1484.1,555.0 L1486.1,554.8 L1488.1,554.7 L1490.1,554.6 L1492.1,554.5 L1494.1,554.3 L1496.1,554.2 L1498.1,554.1 L1500.1,554.0 L1502.1,553.8 L1504.1,553.7 L1506.0,553.6 L1508.0,553.4 L1510.0,553.3 L1512.0,553.1 L1514.0,553.0 L1516.0,552.8 L1518.0,552.6 L1520.0,552.4 L1522.0,552.2 L1524.0,552.0 L1526.0,551.7 L1527.9,551.5 L1529.9,551.2 L1531.9,551.0 L1533.9,550.7 L1535.9,550.5 L1537.9,550.2 L1539.8,550.0 L1541.8,549.7 L1543.8,549.5 L1545.8,549.2 L1547.8,549.0 L1549.8,548.8 L1551.8,548.6 L1553.7,548.4 L1555.7,548.2 L1557.7,548.0 L1559.7,547.8 L1561.7,547.6 L1563.7,547.4 L1565.7,547.2 L1567.7,547.0 L1569.7,546.8 L1571.7,546.6 L1573.7,546.5 L1575.6,546.3 L1577.6,546.1 L1579.6,545.9 L1581.6,545.7 L1583.6,545.5 L1585.6,545.3 L1587.6,545.1 L1589.6,544.9 L1591.6,544.7 L1593.6,544.5 L1595.6,544.3 L1597.5,544.1 L1599.5,543.9 L1601.5,543.7 L1603.5,543.5 L1605.5,543.3 L1607.5,543.1 L1609.5,542.8 L1611.5,542.6 L1613.5,542.4 L1615.4,542.2 L1617.4,542.0 L1619.4,541.8 L1621.4,541.6 L1623.4,541.4 L1625.4,541.2 L1627.4,540.9 L1629.4,540.7 L1631.3,540.5 L1633.3,540.3 L1635.3,540.0 L1637.3,539.8 L1639.3,539.6 L1641.3,539.3 L1643.3,539.1 L1645.3,538.9 L1647.2,538.6 L1649.2,538.4 L1651.2,538.2 L1653.2,537.9 L1655.2,537.7 L1657.2,537.4 L1659.2,537.2 L1661.1,536.9 L1663.1,536.7 L1665.1,536.4 L1667.1,536.1 L1669.0,535.8 L1671.0,535.5 L1673.0,535.1 L1675.0,534.8 L1676.9,534.5 L1678.9,534.2 L1680.9,533.8 L1682.9,533.5 L1684.8,533.1 L1686.8,532.7 L1688.7,532.3 L1690.7,531.9 L1692.6,531.5 L1694.6,531.1 L1696.5,530.6 L1698.5,530.1 L1700.4,529.7 L1702.4,529.2 L1704.3,528.7 L1706.2,528.2 L1708.2,527.7 L1710.1,527.3 L1712.0,526.8 L1713.8,526.4 L1715.6,526.0 L1717.3,525.6 L1718.9,525.3 L1720.3,525.1 L1721.5,524.9 L1725.6,524.6" fill="none" stroke="#ff8000" stroke-width="8" stroke-linejoin="round" stroke-linecap="butt"/>
<path d="M301.0,172.5 L304.9,172.5 L306.2,172.5 L307.8,172.5 L309.4,172.5 L311.2,172.5 L313.1,172.5 L315.1,172.5 L317.0,172.5 L319.0,172.5 L321.0,172.5 L323.0,172.5 L325.0,172.5 L327.0,172.5 L329.0,172.5 L331.0,172.5 L333.0,172.6 L335.0,172.6 L337.0,172.6 L339.0,172.7 L341.0,172.7 L343.0,172.8 L345.0,172.9 L347.0,173.0 L349.0,173.1 L351.0,173.2 L353.0,173.3 L355.0,173.4 L357.0,173.5 L359.0,173.6 L361.0,173.7 L363.0,173.8 L365.0,174.0 L367.0,174.1 L369.0,174.2 L371.0,174.3 L372.9,174.4 L374.9,174.5 L376.9,174.6 L378.9,174.7 L380.9,174.8 L382.9,174.9 L384.9,175.0 L386.9,175.1 L388.9,175.3 L390.9,175.4 L392.9,175.5 L394.9,175.6 L396.9,175.7 L398.9,175.8 L400.9,175.9 L402.9,176.0 L404.9,176.1 L406.9,176.2 L408.9,176.3 L410.9,176.4 L412.9,176.5 L414.9,176.6 L416.9,176.7 L418.9,176.8 L420.9,176.9 L422.9,177.0 L424.9,177.0 L426.9,177.1 L428.9,177.2 L430.9,177.3 L432.9,177.4 L434.9,177.5 L436.9,177.5 L438.9,177.6 L440.9,177.7 L442.9,177.8 L444.9,177.9 L446.9,178.0 L448.9,178.0 L450.9,178.1 L452.9,178.2 L454.9,178.3 L456.9,178.4 L458.9,178.5 L460.8,178.5 L462.8,178.6 L464.8,178.7 L466.8,178.8 L468.8,178.9 L470.8,179.0 L472.8,179.0 L474.8,179.1 L476.8,179.2 L478.8,179.3 L480.8,179.4 L482.8,179.5 L484.8,179.5 L486.8,179.6 L488.8,179.7 L490.8,179.8 L492.8,179.9 L494.8,179.9 L496.8,180.0 L498.8,180.1 L500.8,180.2 L502.8,180.3 L504.8,180.3 L506.8,180.4 L508.8,180.5 L510.8,180.6 L512.8,180.6 L514.8,180.7 L516.8,180.7 L518.8,180.8 L520.8,180.8 L522.8,180.9 L524.8,180.9 L526.8,181.0 L528.8,181.1 L530.8,181.1 L532.8,181.2 L534.8,181.2 L536.8,181.3 L538.8,181.3 L540.8,181.4 L542.8,181.4 L544.8,181.5 L546.8,181.5 L548.8,181.6 L550.8,181.6 L552.8,181.7 L554.8,181.7 L556.8,181.8 L558.8,181.9 L560.8,181.9 L562.8,182.0 L564.8,182.0 L566.8,182.1 L568.8,182.1 L570.8,182.2 L572.8,182.2 L574.8,182.3 L576.8,182.3 L578.8,182.4 L580.8,182.4 L582.8,182.5 L584.8,182.5 L586.8,182.6 L588.8,182.7 L590.8,182.7 L592.8,182.8 L594.8,182.8 L596.8,182.9 L598.8,182.9 L600.8,183.0 L602.8,183.0 L604.8,183.1 L606.8,183.1 L608.8,183.2 L610.8,183.2 L612.8,183.3 L614.8,183.3 L616.8,183.4 L618.8,183.5 L620.8,183.5 L622.8,183.6 L624.8,183.6 L626.8,183.7 L628.8,183.7 L630.8,183.8 L632.8,183.8 L634.8,183.9 L636.8,183.9 L638.8,184.0 L640.8,184.0 L642.8,184.1 L644.8,184.1 L646.8,184.2 L648.8,184.3 L650.8,184.3 L652.8,184.4 L654.8,184.4 L656.8,184.5 L658.8,184.6 L660.8,184.6 L662.8,184.7 L664.7,184.8 L666.7,184.8 L668.7,184.9 L670.7,185.0 L672.7,185.1 L674.7,185.2 L676.7,185.2 L678.7,185.3 L680.7,185.4 L682.7,185.5 L684.7,185.5 L686.7,185.6 L688.7,185.7 L690.7,185.8 L692.7,185.9 L694.7,185.9 L696.7,186.0 L698.7,186.1 L700.7,186.2 L702.7,186.2 L704.7,186.3 L706.7,186.4 L708.7,186.5 L710.7,186.6 L712.7,186.6 L714.7,186.7 L716.7,186.8 L718.7,186.9 L720.7,186.9 L722.7,187.0 L724.7,187.1 L726.7,187.2 L728.7,187.3 L730.7,187.3 L732.7,187.4 L734.7,187.5 L736.7,187.6 L738.7,187.7 L740.7,187.7 L742.7,187.8 L744.7,187.9 L746.7,188.0 L748.7,188.0 L750.7,188.1 L752.7,188.2 L754.7,188.3 L756.7,188.4 L758.7,188.5 L760.7,188.6 L762.7,188.8 L764.7,188.9 L766.6,189.1 L768.6,189.3 L770.6,189.5 L772.6,189.7 L774.6,189.9 L776.6,190.1 L778.6,190.3 L780.6,190.6 L782.6,190.8 L784.5,191.0 L786.5,191.2 L788.5,191.4 L790.5,191.7 L792.5,191.9 L794.5,192.1 L796.5,192.3 L798.5,192.6 L800.4,192.8 L802.4,193.0 L804.4,193.3 L806.4,193.5 L808.4,193.7 L810.4,194.0 L812.4,194.2 L814.3,194.4 L816.3,194.7 L818.3,194.9 L820.3,195.1 L822.3,195.4 L824.3,195.6 L826.3,195.9 L828.2,196.1 L830.2,196.4 L832.2,196.6 L834.2,196.9 L836.2,197.2 L838.1,197.5 L840.1,197.8 L842.1,198.1 L844.1,198.4 L846.0,198.8 L848.0,199.1 L850.0,199.4 L852.0,199.7 L853.9,200.0 L855.9,200.3 L857.9,200.7 L859.9,201.0 L861.8,201.3 L863.8,201.6 L865.8,202.0 L867.8,202.3 L869.7,202.6 L871.7,202.9 L873.7,203.3 L875.6,203.6 L877.6,203.9 L879.6,204.3 L881.6,204.6 L883.5,204.9 L885.5,205.2 L887.5,205.5 L889.5,205.9 L891.4,206.2 L893.4,206.5 L895.4,206.8 L897.4,207.1 L899.3,207.5 L901.3,207.8 L903.3,208.1 L905.3,208.5 L907.2,208.8 L909.2,209.2 L911.2,209.5 L913.1,209.9 L915.1,210.3 L917.0,210.7 L919.0,211.0 L921.0,211.4 L922.9,211.8 L924.9,212.2 L926.9,212.6 L928.8,213.0 L930.8,213.4 L932.7,213.8 L934.7,214.2 L936.7,214.6 L938.6,215.0 L940.6,215.4 L942.5,215.8 L944.5,216.3 L946.4,216.7 L948.4,217.1 L950.3,217.6 L952.3,218.0 L954.2,218.5 L956.2,218.9 L958.1,219.4 L960.1,219.9 L962.0,220.4 L963.9,220.9 L965.9,221.4 L967.8,221.9 L969.7,222.4 L971.7,222.9 L973.6,223.5 L975.5,224.0 L977.4,224.6 L979.4,225.1 L981.3,225.7 L983.2,226.2 L985.1,226.8 L987.0,227.3 L989.0,227.9 L990.9,228.5 L992.8,229.1 L994.7,229.8 L996.6,230.4 L998.4,231.1 L1000.3,231.8 L1002.2,232.5 L1004.0,233.2 L1005.9,234.0 L1007.7,234.8 L1009.5,235.6 L1011.4,236.4 L1013.2,237.2 L1015.0,238.1 L1016.8,238.9 L1018.6,239.8 L1020.4,240.6 L1022.2,241.5 L1024.0,242.3 L1025.8,243.2 L1027.6,244.1 L1029.4,244.9 L1031.2,245.8 L1033.0,246.8 L1034.7,247.7 L1036.5,248.7 L1038.2,249.7 L1039.9,250.7 L1041.6,251.7 L1043.3,252.8 L1045.0,253.9 L1046.7,255.0 L1048.3,256.1 L1050.0,257.2 L1051.7,258.3 L1053.3,259.4 L1055.0,260.6 L1056.6,261.7 L1058.3,262.8 L1059.9,264.0 L1061.5,265.1 L1063.2,266.3 L1064.7,267.5 L1066.3,268.7 L1067.9,270.0 L1069.4,271.3 L1070.9,272.6 L1072.3,273.9 L1073.8,275.3 L1075.2,276.7 L1076.6,278.1 L1078.0,279.5 L1079.5,280.9 L1080.9,282.4 L1082.3,283.8 L1083.7,285.2 L1085.1,286.6 L1086.5,288.1 L1087.9,289.5 L1089.2,290.9 L1090.6,292.4 L1092.0,293.8 L1093.4,295.3 L1094.8,296.7 L1096.1,298.2 L1097.4,299.7 L1098.7,301.2 L1100.0,302.7 L1101.2,304.3 L1102.4,305.9 L1103.6,307.5 L1104.8,309.1 L1106.0,310.7 L1107.2,312.2 L1108.5,313.8 L1109.7,315.4 L1111.0,316.9 L1112.2,318.5 L1113.5,320.0 L1114.8,321.6 L1116.0,323.1 L1117.3,324.6 L1118.6,326.2 L1119.8,327.7 L1121.1,329.3 L1122.4,330.8 L1123.6,332.4 L1124.9,333.9 L1126.2,335.5 L1127.5,337.0 L1128.7,338.6 L1130.0,340.1 L1131.2,341.7 L1132.5,343.2 L1133.7,344.8 L1135.0,346.4 L1136.2,347.9 L1137.4,349.5 L1138.6,351.1 L1139.8,352.7 L1141.0,354.3 L1142.2,355.9 L1143.4,357.5 L1144.5,359.2 L1145.7,360.8 L1146.9,362.4 L1148.0,364.1 L1149.2,365.7 L1150.3,367.3 L1151.4,369.0 L1152.5,370.7 L1153.6,372.3 L1154.7,374.0 L1155.8,375.7 L1156.8,377.4 L1157.9,379.1 L1159.0,380.8 L1160.0,382.5 L1161.1,384.2 L1162.2,385.9 L1163.2,387.5 L1164.3,389.2 L1165.4,390.9 L1166.4,392.6 L1167.5,394.3 L1168.6,396.0 L1169.7,397.7 L1170.8,399.3 L1171.9,401.0 L1173.0,402.7 L1174.0,404.4 L1175.1,406.0 L1176.2,407.7 L1177.3,409.4 L1178.4,411.1 L1179.5,412.7 L1180.6,414.4 L1181.7,416.1 L1182.8,417.7 L1183.9,419.4 L1185.0,421.1 L1186.1,422.7 L1187.3,424.4 L1188.4,426.1 L1189.5,427.7 L1190.6,429.4 L1191.6,431.1 L1192.7,432.8 L1193.8,434.5 L1194.8,436.2 L1195.8,437.9 L1196.8,439.6 L1197.9,441.3 L1198.9,443.1 L1199.9,444.8 L1200.9,446.5 L1202.0,448.2 L1203.0,449.9 L1204.1,451.6 L1205.2,453.2 L1206.4,454.9 L1207.5,456.5 L1208.7,458.1 L1209.9,459.7 L1211.0,461.4 L1212.2,463.0 L1213.4,464.6 L1214.6,466.2 L1215.8,467.8 L1217.0,469.4 L1218.2,471.0 L1219.4,472.6 L1220.5,474.2 L1221.7,475.9 L1222.9,477.5 L1224.0,479.1 L1225.2,480.7 L1226.3,482.4 L1227.5,484.0 L1228.6,485.7 L1229.7,487.3 L1230.9,489.0 L1232.0,490.6 L1233.1,492.3 L1234.3,493.9 L1235.4,495.5 L1236.6,497.1 L1237.8,498.8 L1239.0,500.3 L1240.2,501.9 L1241.5,503.5 L1242.7,505.0 L1244.0,506.6 L1245.3,508.1 L1246.6,509.6 L1247.9,511.1 L1249.2,512.6 L1250.6,514.1 L1251.9,515.6 L1253.3,517.0 L1254.7,518.4 L1256.1,519.9 L1257.5,521.3 L1258.9,522.7 L1260.3,524.1 L1261.7,525.5 L1263.2,527.0 L1264.6,528.4 L1266.0,529.8 L1267.4,531.2 L1268.8,532.6 L1270.2,534.0 L1271.6,535.4 L1273.1,536.9 L1274.5,538.3 L1275.9,539.7 L1277.3,541.1 L1278.7,542.5 L1280.1,543.9 L1281.5,545.3 L1283.0,546.7 L1284.4,548.1 L1285.8,549.5 L1287.3,550.9 L1288.7,552.3 L1290.2,553.6 L1291.7,554.9 L1293.2,556.2 L1294.8,557.4 L1296.4,558.6 L1298.0,559.8 L1299.6,560.9 L1301.3,562.0 L1303.0,563.1 L1304.6,564.2 L1306.3,565.3 L1308.0,566.3 L1309.8,567.4 L1311.5,568.4 L1313.2,569.3 L1315.0,570.3 L1316.7,571.3 L1318.5,572.2 L1320.3,573.1 L1322.0,574.0 L1323.8,574.9 L1325.6,575.8 L1327.4,576.6 L1329.3,577.4 L1331.1,578.2 L1332.9,579.0 L1334.8,579.7 L1336.7,580.5 L1338.5,581.2 L1340.4,582.0 L1342.2,582.7 L1344.1,583.4 L1346.0,584.1 L1347.9,584.7 L1349.7,585.4 L1351.6,586.1 L1353.5,586.7 L1355.4,587.3 L1357.3,588.0 L1359.2,588.6 L1361.1,589.2 L1363.0,589.8 L1365.0,590.4 L1366.9,590.9 L1368.8,591.5 L1370.7,592.0 L1372.6,592.6 L1374.6,593.1 L1376.5,593.6 L1378.4,594.1 L1380.4,594.7 L1382.3,595.2 L1384.2,595.7 L1386.2,596.2 L1388.1,596.7 L1390.0,597.2 L1392.0,597.7 L1393.9,598.1 L1395.9,598.6 L1397.8,599.0 L1399.8,599.4 L1401.7,599.8 L1403.7,600.1 L1405.6,600.4 L1407.6,600.6 L1409.6,600.7 L1411.6,600.9 L1413.6,600.9 L1415.6,601.0 L1417.6,601.0 L1419.6,601.0 L1421.6,601.0 L1423.6,601.1 L1425.6,601.1 L1427.6,601.1 L1429.6,601.1 L1431.6,601.1 L1433.6,601.1 L1435.6,601.1 L1437.6,601.1 L1439.6,601.1 L1441.6,601.1 L1443.6,601.1 L1445.6,601.1 L1447.6,601.1 L1449.6,601.1 L1451.6,601.1 L1453.6,601.1 L1455.6,601.2 L1457.6,601.2 L1459.6,601.2 L1461.6,601.2 L1463.6,601.2 L1465.6,601.2 L1467.6,601.1 L1469.6,601.1 L1471.6,601.1 L1473.6,601.1 L1475.6,601.0 L1477.6,601.0 L1479.6,600.9 L1481.6,600.8 L1483.6,600.8 L1485.6,600.7 L1487.6,600.6 L1489.6,600.6 L1491.5,600.5 L1493.5,600.4 L1495.5,600.4 L1497.5,600.3 L1499.5,600.2 L1501.5,600.2 L1503.5,600.1 L1505.5,600.0 L1507.5,600.0 L1509.5,599.9 L1511.5,599.8 L1513.5,599.8 L1515.5,599.7 L1517.5,599.6 L1519.5,599.6 L1521.5,599.5 L1523.5,599.4 L1525.5,599.4 L1527.5,599.3 L1529.5,599.3 L1531.5,599.2 L1533.5,599.1 L1535.5,599.1 L1537.5,599.0 L1539.5,598.9 L1541.5,598.9 L1543.5,598.8 L1545.5,598.8 L1547.5,598.7 L1549.5,598.6 L1551.5,598.6 L1553.5,598.5 L1555.5,598.5 L1557.5,598.4 L1559.5,598.4 L1561.5,598.3 L1563.5,598.2 L1565.5,598.2 L1567.5,598.1 L1569.5,598.1 L1571.5,598.0 L1573.5,598.0 L1575.5,597.9 L1577.5,597.9 L1579.5,597.8 L1581.5,597.7 L1583.5,597.7 L1585.5,597.6 L1587.5,597.6 L1589.5,597.5 L1591.5,597.5 L1593.5,597.4 L1595.5,597.3 L1597.5,597.3 L1599.5,597.2 L1601.5,597.2 L1603.5,597.1 L1605.5,597.0 L1607.5,597.0 L1609.5,596.9 L1611.5,596.9 L1613.5,596.8 L1615.5,596.7 L1617.5,596.7 L1619.5,596.6 L1621.5,596.6 L1623.5,596.5 L1625.5,596.4 L1627.5,596.4 L1629.5,596.3 L1631.5,596.2 L1633.5,596.2 L1635.5,596.1 L1637.5,596.1 L1639.5,596.0 L1641.5,595.9 L1643.5,595.9 L1645.5,595.8 L1647.5,595.7 L1649.5,595.7 L1651.5,595.6 L1653.5,595.5 L1655.5,595.5 L1657.5,595.4 L1659.5,595.4 L1661.5,595.3 L1663.5,595.2 L1665.5,595.1 L1667.5,595.0 L1669.5,594.9 L1671.4,594.8 L1673.4,594.6 L1675.4,594.5 L1677.4,594.3 L1679.4,594.2 L1681.4,594.1 L1683.4,594.0 L1685.4,593.9 L1687.4,593.9 L1689.4,593.9 L1691.3,594.0 L1693.3,594.1 L1695.3,594.3 L1697.3,594.5 L1699.3,594.7 L1701.3,594.9 L1703.3,595.2 L1705.2,595.4 L1707.2,595.7 L1709.2,595.9 L1711.2,596.0 L1713.1,596.1 L1715.1,596.2 L1717.1,596.1 L1719.0,596.0 L1721.0,595.9 L1722.9,595.7 L1724.8,595.4 L1726.7,595.1 L1728.5,594.9 L1730.1,594.6 L1731.6,594.3 L1733.0,594.1 L1734.0,593.9 L1737.5,593.3" fill="none" stroke="#8000ff" stroke-width="8" stroke-linejoin="round" stroke-linecap="butt"/>
<rect x="299.3" y="60.8" width="1678.8" height="1242.55" fill="none" stroke="#000" stroke-width="4.0"/>
<g stroke="#000" stroke-width="3.9" stroke-linecap="butt">
<line x1="301.3" y1="1240.0" x2="313.6" y2="1240.0"/>
<line x1="301.3" y1="1203.0" x2="313.6" y2="1203.0"/>
<line x1="301.3" y1="1176.7" x2="313.6" y2="1176.7"/>
<line x1="301.3" y1="1156.4" x2="313.6" y2="1156.4"/>
<line x1="301.3" y1="1139.7" x2="313.6" y2="1139.7"/>
<line x1="301.3" y1="1125.6" x2="313.6" y2="1125.6"/>
<line x1="301.3" y1="1113.4" x2="313.6" y2="1113.4"/>
<line x1="301.3" y1="1102.7" x2="313.6" y2="1102.7"/>
<line x1="301.3" y1="1093.1" x2="325.8" y2="1093.1"/>
<line x1="301.3" y1="1030.9" x2="313.6" y2="1030.9"/>
<line x1="301.3" y1="994.6" x2="313.6" y2="994.6"/>
<line x1="301.3" y1="968.8" x2="313.6" y2="968.8"/>
<line x1="301.3" y1="948.8" x2="313.6" y2="948.8"/>
<line x1="301.3" y1="932.4" x2="313.6" y2="932.4"/>
<line x1="301.3" y1="918.6" x2="313.6" y2="918.6"/>
<line x1="301.3" y1="906.6" x2="313.6" y2="906.6"/>
<line x1="301.3" y1="896.0" x2="313.6" y2="896.0"/>
<line x1="301.3" y1="886.6" x2="325.8" y2="886.6"/>
<line x1="301.3" y1="823.2" x2="313.6" y2="823.2"/>
<line x1="301.3" y1="786.1" x2="313.6" y2="786.1"/>
<line x1="301.3" y1="759.8" x2="313.6" y2="759.8"/>
<line x1="301.3" y1="739.4" x2="313.6" y2="739.4"/>
<line x1="301.3" y1="722.8" x2="313.6" y2="722.8"/>
<line x1="301.3" y1="708.7" x2="313.6" y2="708.7"/>
<line x1="301.3" y1="696.5" x2="313.6" y2="696.5"/>
<line x1="301.3" y1="685.7" x2="313.6" y2="685.7"/>
<line x1="301.3" y1="676.0" x2="325.8" y2="676.0"/>
<line x1="301.3" y1="612.8" x2="313.6" y2="612.8"/>
<line x1="301.3" y1="575.8" x2="313.6" y2="575.8"/>
<line x1="301.3" y1="549.5" x2="313.6" y2="549.5"/>
<line x1="301.3" y1="529.2" x2="313.6" y2="529.2"/>
<line x1="301.3" y1="512.5" x2="313.6" y2="512.5"/>
<line x1="301.3" y1="498.5" x2="313.6" y2="498.5"/>
<line x1="301.3" y1="486.3" x2="313.6" y2="486.3"/>
<line x1="301.3" y1="475.5" x2="313.6" y2="475.5"/>
<line x1="301.3" y1="465.9" x2="325.8" y2="465.9"/>
<line x1="301.3" y1="403.7" x2="313.6" y2="403.7"/>
<line x1="301.3" y1="367.3" x2="313.6" y2="367.3"/>
<line x1="301.3" y1="341.5" x2="313.6" y2="341.5"/>
<line x1="301.3" y1="321.5" x2="313.6" y2="321.5"/>
<line x1="301.3" y1="305.1" x2="313.6" y2="305.1"/>
<line x1="301.3" y1="291.3" x2="313.6" y2="291.3"/>
<line x1="301.3" y1="279.3" x2="313.6" y2="279.3"/>
<line x1="301.3" y1="268.8" x2="313.6" y2="268.8"/>
<line x1="301.3" y1="259.3" x2="325.8" y2="259.3"/>
<line x1="301.3" y1="196.1" x2="313.6" y2="196.1"/>
<line x1="301.3" y1="159.1" x2="313.6" y2="159.1"/>
<line x1="301.3" y1="132.9" x2="313.6" y2="132.9"/>
<line x1="301.3" y1="112.5" x2="313.6" y2="112.5"/>
<line x1="301.3" y1="95.9" x2="313.6" y2="95.9"/>
<line x1="301.3" y1="81.8" x2="313.6" y2="81.8"/>
<line x1="301.3" y1="69.7" x2="313.6" y2="69.7"/>
<line x1="1976.1" y1="255.2" x2="1956.0" y2="255.2"/>
<line x1="1976.1" y1="449.6" x2="1956.0" y2="449.6"/>
<line x1="1976.1" y1="643.5" x2="1956.0" y2="643.5"/>
<line x1="1976.1" y1="838.0" x2="1956.0" y2="838.0"/>
<line x1="1976.1" y1="1032.1" x2="1956.0" y2="1032.1"/>
<line x1="1976.1" y1="1226.8" x2="1956.0" y2="1226.8"/>
<line x1="1976.1" y1="1129.6" x2="1968.0" y2="1129.6"/>
<line x1="1976.1" y1="935.3" x2="1968.0" y2="935.3"/>
<line x1="1976.1" y1="741.0" x2="1968.0" y2="741.0"/>
<line x1="1976.1" y1="546.7" x2="1968.0" y2="546.7"/>
<line x1="1976.1" y1="352.4" x2="1968.0" y2="352.4"/>
<line x1="1976.1" y1="158.0" x2="1968.0" y2="158.0"/>
<line x1="485.1" y1="1301.3" x2="485.1" y2="1277.3"/>
<line x1="1108.0" y1="1301.3" x2="1108.0" y2="1277.3"/>
<line x1="1730.9" y1="1301.3" x2="1730.9" y2="1277.3"/>
<line x1="796.5" y1="1301.3" x2="796.5" y2="1289.0"/>
<line x1="1419.5" y1="1301.3" x2="1419.5" y2="1289.0"/>
</g>
<g font-size="60">
<text x="277" y="273.4" text-anchor="end" letter-spacing="5.5">1000</text>
<text x="277" y="483.0" text-anchor="end" letter-spacing="5.5">100</text>
<text x="277" y="690.0" text-anchor="end" letter-spacing="5.5">10</text>
<text x="277" y="900.2" text-anchor="end" letter-spacing="5.5">1</text>
<text x="277" y="1110.7" text-anchor="end" letter-spacing="5.5">0.1</text>
<text x="277" y="1317.3" text-anchor="end" letter-spacing="5.5">0.01</text>
<text x="2001.5" y="75.3" letter-spacing="3">1.50</text>
<text x="2001.5" y="269.5" letter-spacing="3">1.25</text>
<text x="2001.5" y="462.7" letter-spacing="3">1.00</text>
<text x="2001.5" y="657.6" letter-spacing="3">0.75</text>
<text x="2001.5" y="851.9" letter-spacing="3">0.50</text>
<text x="2001.5" y="1045.8" letter-spacing="3">0.25</text>
<text x="2001.5" y="1240.3" letter-spacing="3">0.00</text>
<text x="482.1" y="1378.2" text-anchor="middle" letter-spacing="5">0</text>
<text x="1105.3" y="1378.2" text-anchor="middle" letter-spacing="5">100</text>
<text x="1727.9" y="1378.2" text-anchor="middle" letter-spacing="5">200</text>
</g>
<text y="1499.8" font-size="74"><tspan x="1048.7" textLength="50.5" lengthAdjust="spacingAndGlyphs">T</tspan> <tspan x="1106.5" textLength="30" lengthAdjust="spacingAndGlyphs">(</tspan><tspan x="1132" font-family="DejaVu Serif" font-size="65">℃</tspan><tspan x="1199.5" textLength="30" lengthAdjust="spacingAndGlyphs">)</tspan></text>
<text transform="translate(78,858.5) rotate(-90)" font-size="71" letter-spacing="1">E' (MPa)</text>
<text transform="translate(2234,779) rotate(-90)" font-size="71" letter-spacing="0.6">tan (δ)</text>
<rect x="486" y="457.5" width="509" height="363.8" fill="#fff" stroke="#000" stroke-width="4"/>
<line x1="511.4" y1="520.2" x2="669.3" y2="520.2" stroke="#8000ff" stroke-width="8"/>
<text x="672.5" y="540.4" font-size="60" letter-spacing="3.8">BIO-PUR1</text>
<line x1="511.4" y1="601.3" x2="669.3" y2="601.3" stroke="#ff0000" stroke-width="8"/>
<text x="672.5" y="621.2" font-size="60" letter-spacing="3.8">BIO-PUR2</text>
<line x1="511.4" y1="682" x2="669.3" y2="682" stroke="#008080" stroke-width="8"/>
<text x="672.5" y="702" font-size="60" letter-spacing="3.8">BIO-PUR3</text>
<line x1="511.4" y1="767" x2="669.3" y2="767" stroke="#ff8000" stroke-width="8"/>
<text x="672.5" y="786.9" font-size="60" letter-spacing="3.8">PUR-REF</text>
</svg></body></html>
